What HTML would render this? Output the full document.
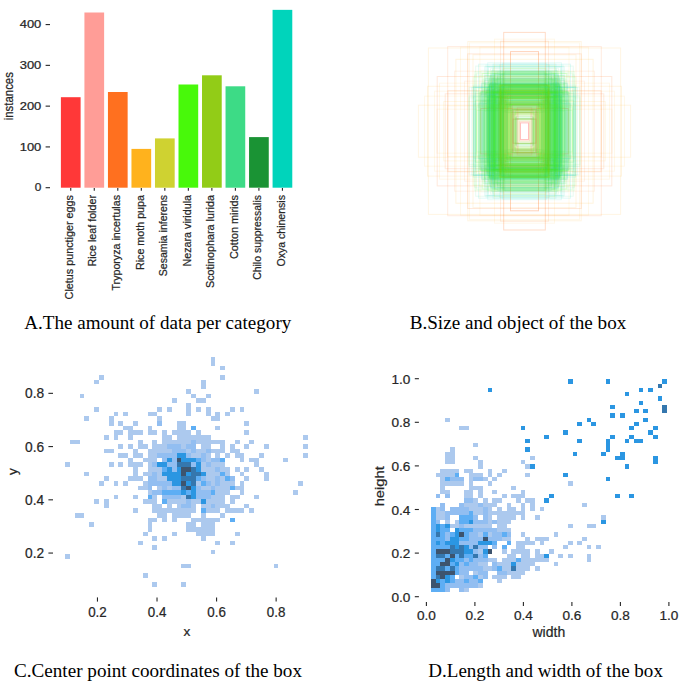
<!DOCTYPE html>
<html><head><meta charset="utf-8"><style>
html,body{margin:0;padding:0;background:#fff;width:685px;height:681px;overflow:hidden}
svg{display:block}
</style></head><body>
<svg width="685" height="681" viewBox="0 0 685 681">
<text x="41.30" y="191.35" font-size="10.3" font-family="'Liberation Sans', sans-serif" fill="#262626" text-anchor="end" textLength="6.60" lengthAdjust="spacingAndGlyphs" stroke="#262626" stroke-width="0.22">0</text>
<line x1="45.60" y1="187.70" x2="50.00" y2="187.70" stroke="#262626" stroke-width="1.1"/>
<text x="41.30" y="150.57" font-size="10.3" font-family="'Liberation Sans', sans-serif" fill="#262626" text-anchor="end" textLength="21.60" lengthAdjust="spacingAndGlyphs" stroke="#262626" stroke-width="0.22">100</text>
<line x1="45.60" y1="146.92" x2="50.00" y2="146.92" stroke="#262626" stroke-width="1.1"/>
<text x="41.30" y="109.79" font-size="10.3" font-family="'Liberation Sans', sans-serif" fill="#262626" text-anchor="end" textLength="21.60" lengthAdjust="spacingAndGlyphs" stroke="#262626" stroke-width="0.22">200</text>
<line x1="45.60" y1="106.14" x2="50.00" y2="106.14" stroke="#262626" stroke-width="1.1"/>
<text x="41.30" y="69.01" font-size="10.3" font-family="'Liberation Sans', sans-serif" fill="#262626" text-anchor="end" textLength="21.60" lengthAdjust="spacingAndGlyphs" stroke="#262626" stroke-width="0.22">300</text>
<line x1="45.60" y1="65.36" x2="50.00" y2="65.36" stroke="#262626" stroke-width="1.1"/>
<text x="41.30" y="28.23" font-size="10.3" font-family="'Liberation Sans', sans-serif" fill="#262626" text-anchor="end" textLength="21.60" lengthAdjust="spacingAndGlyphs" stroke="#262626" stroke-width="0.22">400</text>
<line x1="45.60" y1="24.58" x2="50.00" y2="24.58" stroke="#262626" stroke-width="1.1"/>
<text x="13.30" y="96.20" font-size="12.0" font-family="'Liberation Sans', sans-serif" fill="#262626" text-anchor="middle" textLength="48.20" lengthAdjust="spacingAndGlyphs" transform="rotate(-90 13.30 96.20)" stroke="#262626" stroke-width="0.22">instances</text>
<rect x="60.90" y="97.20" width="19.70" height="90.50" fill="#ff3838"/>
<line x1="70.75" y1="188.00" x2="70.75" y2="190.80" stroke="#262626" stroke-width="1.1"/>
<text x="72.95" y="195.00" font-size="10.7" font-family="'Liberation Sans', sans-serif" fill="#262626" text-anchor="end" textLength="104.40" lengthAdjust="spacingAndGlyphs" transform="rotate(-90 72.95 195.00)" stroke="#262626" stroke-width="0.22">Cletus punctiger eggs</text>
<rect x="84.42" y="12.50" width="19.70" height="175.20" fill="#ff9d97"/>
<line x1="94.27" y1="188.00" x2="94.27" y2="190.80" stroke="#262626" stroke-width="1.1"/>
<text x="96.47" y="195.00" font-size="10.7" font-family="'Liberation Sans', sans-serif" fill="#262626" text-anchor="end" textLength="71.50" lengthAdjust="spacingAndGlyphs" transform="rotate(-90 96.47 195.00)" stroke="#262626" stroke-width="0.22">Rice leaf folder</text>
<rect x="107.94" y="92.00" width="19.70" height="95.70" fill="#ff701f"/>
<line x1="117.79" y1="188.00" x2="117.79" y2="190.80" stroke="#262626" stroke-width="1.1"/>
<text x="119.99" y="195.00" font-size="10.7" font-family="'Liberation Sans', sans-serif" fill="#262626" text-anchor="end" textLength="95.50" lengthAdjust="spacingAndGlyphs" transform="rotate(-90 119.99 195.00)" stroke="#262626" stroke-width="0.22">Tryporyza incertulas</text>
<rect x="131.46" y="148.90" width="19.70" height="38.80" fill="#ffb21d"/>
<line x1="141.31" y1="188.00" x2="141.31" y2="190.80" stroke="#262626" stroke-width="1.1"/>
<text x="143.51" y="195.00" font-size="10.7" font-family="'Liberation Sans', sans-serif" fill="#262626" text-anchor="end" textLength="75.10" lengthAdjust="spacingAndGlyphs" transform="rotate(-90 143.51 195.00)" stroke="#262626" stroke-width="0.22">Rice moth pupa</text>
<rect x="154.98" y="138.40" width="19.70" height="49.30" fill="#cfd231"/>
<line x1="164.83" y1="188.00" x2="164.83" y2="190.80" stroke="#262626" stroke-width="1.1"/>
<text x="167.03" y="195.00" font-size="10.7" font-family="'Liberation Sans', sans-serif" fill="#262626" text-anchor="end" textLength="81.20" lengthAdjust="spacingAndGlyphs" transform="rotate(-90 167.03 195.00)" stroke="#262626" stroke-width="0.22">Sesamia inferens</text>
<rect x="178.50" y="84.50" width="19.70" height="103.20" fill="#48f90a"/>
<line x1="188.35" y1="188.00" x2="188.35" y2="190.80" stroke="#262626" stroke-width="1.1"/>
<text x="190.55" y="195.00" font-size="10.7" font-family="'Liberation Sans', sans-serif" fill="#262626" text-anchor="end" textLength="71.50" lengthAdjust="spacingAndGlyphs" transform="rotate(-90 190.55 195.00)" stroke="#262626" stroke-width="0.22">Nezara viridula</text>
<rect x="202.02" y="75.30" width="19.70" height="112.40" fill="#92cc17"/>
<line x1="211.87" y1="188.00" x2="211.87" y2="190.80" stroke="#262626" stroke-width="1.1"/>
<text x="214.07" y="195.00" font-size="10.7" font-family="'Liberation Sans', sans-serif" fill="#262626" text-anchor="end" textLength="93.00" lengthAdjust="spacingAndGlyphs" transform="rotate(-90 214.07 195.00)" stroke="#262626" stroke-width="0.22">Scotinophara lurida</text>
<rect x="225.54" y="86.30" width="19.70" height="101.40" fill="#3ddb86"/>
<line x1="235.39" y1="188.00" x2="235.39" y2="190.80" stroke="#262626" stroke-width="1.1"/>
<text x="237.59" y="195.00" font-size="10.7" font-family="'Liberation Sans', sans-serif" fill="#262626" text-anchor="end" textLength="64.00" lengthAdjust="spacingAndGlyphs" transform="rotate(-90 237.59 195.00)" stroke="#262626" stroke-width="0.22">Cotton mirids</text>
<rect x="249.06" y="137.10" width="19.70" height="50.60" fill="#1a9334"/>
<line x1="258.91" y1="188.00" x2="258.91" y2="190.80" stroke="#262626" stroke-width="1.1"/>
<text x="261.11" y="195.00" font-size="10.7" font-family="'Liberation Sans', sans-serif" fill="#262626" text-anchor="end" textLength="84.80" lengthAdjust="spacingAndGlyphs" transform="rotate(-90 261.11 195.00)" stroke="#262626" stroke-width="0.22">Chilo suppressalis</text>
<rect x="272.58" y="9.85" width="19.70" height="177.85" fill="#00d4bb"/>
<line x1="282.43" y1="188.00" x2="282.43" y2="190.80" stroke="#262626" stroke-width="1.1"/>
<text x="284.63" y="195.00" font-size="10.7" font-family="'Liberation Sans', sans-serif" fill="#262626" text-anchor="end" textLength="71.50" lengthAdjust="spacingAndGlyphs" transform="rotate(-90 284.63 195.00)" stroke="#262626" stroke-width="0.22">Oxya chinensis</text>
<rect x="503.7" y="32.4" width="41.6" height="197.6" fill="none" stroke="#ff701f" stroke-opacity="0.248" stroke-width="1.0"/>
<rect x="428.4" y="48.0" width="192.2" height="166.4" fill="none" stroke="#ffb21d" stroke-opacity="0.124" stroke-width="1.0"/>
<rect x="418.4" y="105.2" width="212.2" height="52.0" fill="none" stroke="#ffb21d" stroke-opacity="0.124" stroke-width="1.0"/>
<rect x="467.8" y="41.6" width="113.4" height="179.2" fill="none" stroke="#ffb21d" stroke-opacity="0.124" stroke-width="1.0"/>
<rect x="437.2" y="76.5" width="174.6" height="109.4" fill="none" stroke="#ff701f" stroke-opacity="0.155" stroke-width="1.0"/>
<rect x="427.5" y="86.3" width="194.0" height="89.8" fill="none" stroke="#ffb21d" stroke-opacity="0.124" stroke-width="1.0"/>
<rect x="447.9" y="90.7" width="153.2" height="81.0" fill="none" stroke="#ff701f" stroke-opacity="0.155" stroke-width="1.0"/>
<rect x="437.0" y="109.2" width="175.0" height="44.0" fill="none" stroke="#ffb21d" stroke-opacity="0.093" stroke-width="1.0"/>
<rect x="467.7" y="53.9" width="113.6" height="154.6" fill="none" stroke="#ff701f" stroke-opacity="0.155" stroke-width="1.0"/>
<rect x="473.0" y="54.8" width="103.0" height="152.8" fill="none" stroke="#ffb21d" stroke-opacity="0.124" stroke-width="1.0"/>
<rect x="434.5" y="91.2" width="180.0" height="80.0" fill="none" stroke="#ffb21d" stroke-opacity="0.093" stroke-width="1.0"/>
<rect x="447.5" y="105.9" width="154.0" height="50.6" fill="none" stroke="#ffb21d" stroke-opacity="0.093" stroke-width="1.0"/>
<rect x="469.5" y="42.8" width="110.0" height="176.8" fill="none" stroke="#ffb21d" stroke-opacity="0.093" stroke-width="1.0"/>
<rect x="480.8" y="108.5" width="87.4" height="45.4" fill="none" stroke="#ff701f" stroke-opacity="0.279" stroke-width="1.0"/>
<rect x="510.5" y="51.6" width="28.0" height="159.2" fill="none" stroke="#ff701f" stroke-opacity="0.310" stroke-width="1.0"/>
<rect x="500.5" y="41.2" width="48.0" height="180.0" fill="none" stroke="#ff701f" stroke-opacity="0.124" stroke-width="1.0"/>
<rect x="494.5" y="39.2" width="60.0" height="184.0" fill="none" stroke="#ffb21d" stroke-opacity="0.093" stroke-width="1.0"/>
<rect x="460.5" y="47.2" width="128.0" height="168.0" fill="none" stroke="#ffb21d" stroke-opacity="0.093" stroke-width="1.0"/>
<rect x="424.5" y="96.2" width="200.0" height="70.0" fill="none" stroke="#ffb21d" stroke-opacity="0.093" stroke-width="1.0"/>
<rect x="454.5" y="71.2" width="140.0" height="120.0" fill="none" stroke="#ff701f" stroke-opacity="0.093" stroke-width="1.0"/>
<rect x="464.5" y="81.2" width="120.0" height="100.0" fill="none" stroke="#ff701f" stroke-opacity="0.093" stroke-width="1.0"/>
<rect x="439.5" y="83.2" width="170.0" height="96.0" fill="none" stroke="#ffb21d" stroke-opacity="0.093" stroke-width="1.0"/>
<rect x="455.9" y="59.3" width="137.2" height="143.9" fill="none" stroke="#ffb21d" stroke-opacity="0.146" stroke-width="1.0"/>
<rect x="447.7" y="46.6" width="153.6" height="169.1" fill="none" stroke="#ff701f" stroke-opacity="0.139" stroke-width="1.0"/>
<rect x="445.2" y="93.8" width="158.6" height="74.9" fill="none" stroke="#ff701f" stroke-opacity="0.143" stroke-width="1.0"/>
<rect x="491.6" y="78.4" width="65.8" height="105.7" fill="none" stroke="#ff701f" stroke-opacity="0.107" stroke-width="1.0"/>
<rect x="492.4" y="93.7" width="64.3" height="74.9" fill="none" stroke="#ffb21d" stroke-opacity="0.095" stroke-width="1.0"/>
<rect x="479.9" y="47.1" width="89.1" height="168.3" fill="none" stroke="#ffb21d" stroke-opacity="0.091" stroke-width="1.0"/>
<rect x="443.7" y="101.5" width="161.6" height="59.4" fill="none" stroke="#ffb21d" stroke-opacity="0.111" stroke-width="1.0"/>
<rect x="475.7" y="66.1" width="97.5" height="130.1" fill="none" stroke="#3ddb86" stroke-opacity="0.112" stroke-width="1.0"/>
<rect x="489.0" y="92.1" width="71.0" height="78.2" fill="none" stroke="#3ddb86" stroke-opacity="0.071" stroke-width="1.0"/>
<rect x="479.4" y="75.9" width="90.1" height="110.5" fill="none" stroke="#48f90a" stroke-opacity="0.078" stroke-width="1.0"/>
<rect x="490.0" y="76.0" width="69.1" height="110.5" fill="none" stroke="#3ddb86" stroke-opacity="0.076" stroke-width="1.0"/>
<rect x="499.7" y="64.8" width="49.6" height="132.7" fill="none" stroke="#00d4bb" stroke-opacity="0.096" stroke-width="1.0"/>
<rect x="481.3" y="83.4" width="86.3" height="95.6" fill="none" stroke="#00d4bb" stroke-opacity="0.109" stroke-width="1.0"/>
<rect x="489.5" y="83.6" width="69.9" height="95.3" fill="none" stroke="#48f90a" stroke-opacity="0.088" stroke-width="1.0"/>
<rect x="488.4" y="67.2" width="72.2" height="128.0" fill="none" stroke="#00d4bb" stroke-opacity="0.117" stroke-width="1.0"/>
<rect x="493.6" y="73.7" width="61.9" height="115.0" fill="none" stroke="#48f90a" stroke-opacity="0.082" stroke-width="1.0"/>
<rect x="484.2" y="80.3" width="80.6" height="101.8" fill="none" stroke="#00d4bb" stroke-opacity="0.102" stroke-width="1.0"/>
<rect x="478.6" y="104.0" width="91.8" height="54.5" fill="none" stroke="#00d4bb" stroke-opacity="0.105" stroke-width="1.0"/>
<rect x="492.9" y="73.0" width="63.1" height="116.4" fill="none" stroke="#00d4bb" stroke-opacity="0.107" stroke-width="1.0"/>
<rect x="484.8" y="66.7" width="79.4" height="129.0" fill="none" stroke="#00d4bb" stroke-opacity="0.115" stroke-width="1.0"/>
<rect x="502.5" y="63.3" width="44.1" height="135.9" fill="none" stroke="#00d4bb" stroke-opacity="0.079" stroke-width="1.0"/>
<rect x="490.2" y="73.5" width="68.6" height="115.3" fill="none" stroke="#00d4bb" stroke-opacity="0.098" stroke-width="1.0"/>
<rect x="476.7" y="88.7" width="95.6" height="85.0" fill="none" stroke="#48f90a" stroke-opacity="0.070" stroke-width="1.0"/>
<rect x="487.7" y="87.7" width="73.6" height="87.0" fill="none" stroke="#3ddb86" stroke-opacity="0.104" stroke-width="1.0"/>
<rect x="491.4" y="74.1" width="66.2" height="114.2" fill="none" stroke="#48f90a" stroke-opacity="0.069" stroke-width="1.0"/>
<rect x="474.7" y="71.6" width="99.7" height="119.1" fill="none" stroke="#48f90a" stroke-opacity="0.080" stroke-width="1.0"/>
<rect x="484.9" y="84.4" width="79.2" height="93.7" fill="none" stroke="#48f90a" stroke-opacity="0.066" stroke-width="1.0"/>
<rect x="488.8" y="79.8" width="71.5" height="102.9" fill="none" stroke="#48f90a" stroke-opacity="0.078" stroke-width="1.0"/>
<rect x="492.5" y="82.8" width="64.0" height="96.7" fill="none" stroke="#00d4bb" stroke-opacity="0.089" stroke-width="1.0"/>
<rect x="493.3" y="68.0" width="62.5" height="126.4" fill="none" stroke="#3ddb86" stroke-opacity="0.067" stroke-width="1.0"/>
<rect x="469.1" y="87.4" width="110.8" height="87.5" fill="none" stroke="#3ddb86" stroke-opacity="0.098" stroke-width="1.0"/>
<rect x="489.0" y="84.9" width="71.1" height="92.5" fill="none" stroke="#00d4bb" stroke-opacity="0.090" stroke-width="1.0"/>
<rect x="489.8" y="88.5" width="69.3" height="85.4" fill="none" stroke="#00d4bb" stroke-opacity="0.064" stroke-width="1.0"/>
<rect x="473.4" y="86.9" width="102.2" height="88.6" fill="none" stroke="#00d4bb" stroke-opacity="0.106" stroke-width="1.0"/>
<rect x="497.7" y="71.9" width="53.6" height="118.6" fill="none" stroke="#00d4bb" stroke-opacity="0.110" stroke-width="1.0"/>
<rect x="490.3" y="74.7" width="68.5" height="113.0" fill="none" stroke="#00d4bb" stroke-opacity="0.088" stroke-width="1.0"/>
<rect x="474.5" y="87.4" width="100.0" height="87.6" fill="none" stroke="#00d4bb" stroke-opacity="0.088" stroke-width="1.0"/>
<rect x="473.5" y="86.7" width="101.9" height="89.0" fill="none" stroke="#00d4bb" stroke-opacity="0.104" stroke-width="1.0"/>
<rect x="473.2" y="85.1" width="102.5" height="92.2" fill="none" stroke="#3ddb86" stroke-opacity="0.112" stroke-width="1.0"/>
<rect x="474.5" y="75.1" width="100.0" height="112.3" fill="none" stroke="#3ddb86" stroke-opacity="0.072" stroke-width="1.0"/>
<rect x="500.5" y="69.9" width="48.1" height="122.5" fill="none" stroke="#00d4bb" stroke-opacity="0.101" stroke-width="1.0"/>
<rect x="469.1" y="96.0" width="110.8" height="70.4" fill="none" stroke="#3ddb86" stroke-opacity="0.097" stroke-width="1.0"/>
<rect x="473.2" y="77.2" width="102.7" height="108.0" fill="none" stroke="#48f90a" stroke-opacity="0.078" stroke-width="1.0"/>
<rect x="489.3" y="97.2" width="70.4" height="68.0" fill="none" stroke="#00d4bb" stroke-opacity="0.103" stroke-width="1.0"/>
<rect x="482.1" y="73.5" width="84.8" height="115.5" fill="none" stroke="#48f90a" stroke-opacity="0.097" stroke-width="1.0"/>
<rect x="491.8" y="86.0" width="65.4" height="90.5" fill="none" stroke="#48f90a" stroke-opacity="0.088" stroke-width="1.0"/>
<rect x="496.1" y="74.9" width="56.8" height="112.6" fill="none" stroke="#3ddb86" stroke-opacity="0.074" stroke-width="1.0"/>
<rect x="483.8" y="78.8" width="81.4" height="104.8" fill="none" stroke="#48f90a" stroke-opacity="0.117" stroke-width="1.0"/>
<rect x="475.3" y="93.3" width="98.5" height="75.7" fill="none" stroke="#00d4bb" stroke-opacity="0.093" stroke-width="1.0"/>
<rect x="491.9" y="70.7" width="65.2" height="121.1" fill="none" stroke="#00d4bb" stroke-opacity="0.117" stroke-width="1.0"/>
<rect x="492.6" y="69.1" width="63.8" height="124.2" fill="none" stroke="#3ddb86" stroke-opacity="0.085" stroke-width="1.0"/>
<rect x="489.5" y="76.6" width="70.0" height="109.2" fill="none" stroke="#48f90a" stroke-opacity="0.094" stroke-width="1.0"/>
<rect x="482.8" y="89.6" width="83.4" height="83.3" fill="none" stroke="#00d4bb" stroke-opacity="0.083" stroke-width="1.0"/>
<rect x="486.9" y="86.9" width="75.2" height="88.7" fill="none" stroke="#48f90a" stroke-opacity="0.086" stroke-width="1.0"/>
<rect x="476.3" y="73.1" width="96.5" height="116.1" fill="none" stroke="#48f90a" stroke-opacity="0.118" stroke-width="1.0"/>
<rect x="503.9" y="72.3" width="41.3" height="117.8" fill="none" stroke="#3ddb86" stroke-opacity="0.096" stroke-width="1.0"/>
<rect x="489.8" y="85.6" width="69.4" height="91.2" fill="none" stroke="#00d4bb" stroke-opacity="0.117" stroke-width="1.0"/>
<rect x="485.0" y="75.7" width="79.0" height="111.0" fill="none" stroke="#48f90a" stroke-opacity="0.075" stroke-width="1.0"/>
<rect x="482.7" y="73.4" width="83.6" height="115.5" fill="none" stroke="#48f90a" stroke-opacity="0.061" stroke-width="1.0"/>
<rect x="486.9" y="85.8" width="75.1" height="90.8" fill="none" stroke="#48f90a" stroke-opacity="0.107" stroke-width="1.0"/>
<rect x="490.6" y="68.4" width="67.8" height="125.6" fill="none" stroke="#3ddb86" stroke-opacity="0.103" stroke-width="1.0"/>
<rect x="494.3" y="65.8" width="60.4" height="130.8" fill="none" stroke="#48f90a" stroke-opacity="0.091" stroke-width="1.0"/>
<rect x="482.4" y="79.1" width="84.3" height="104.2" fill="none" stroke="#3ddb86" stroke-opacity="0.078" stroke-width="1.0"/>
<rect x="487.3" y="86.7" width="74.5" height="88.9" fill="none" stroke="#00d4bb" stroke-opacity="0.104" stroke-width="1.0"/>
<rect x="480.9" y="70.4" width="87.2" height="121.6" fill="none" stroke="#3ddb86" stroke-opacity="0.062" stroke-width="1.0"/>
<rect x="493.1" y="64.1" width="62.8" height="134.1" fill="none" stroke="#00d4bb" stroke-opacity="0.113" stroke-width="1.0"/>
<rect x="484.6" y="80.4" width="79.8" height="101.5" fill="none" stroke="#48f90a" stroke-opacity="0.096" stroke-width="1.0"/>
<rect x="475.6" y="100.2" width="97.8" height="62.1" fill="none" stroke="#48f90a" stroke-opacity="0.089" stroke-width="1.0"/>
<rect x="473.4" y="96.6" width="102.3" height="69.2" fill="none" stroke="#00d4bb" stroke-opacity="0.088" stroke-width="1.0"/>
<rect x="475.4" y="87.6" width="98.2" height="87.1" fill="none" stroke="#00d4bb" stroke-opacity="0.102" stroke-width="1.0"/>
<rect x="490.8" y="80.2" width="67.5" height="102.1" fill="none" stroke="#48f90a" stroke-opacity="0.115" stroke-width="1.0"/>
<rect x="487.2" y="89.9" width="74.7" height="82.7" fill="none" stroke="#00d4bb" stroke-opacity="0.092" stroke-width="1.0"/>
<rect x="494.1" y="80.3" width="60.8" height="101.8" fill="none" stroke="#00d4bb" stroke-opacity="0.064" stroke-width="1.0"/>
<rect x="478.6" y="64.2" width="91.9" height="134.0" fill="none" stroke="#00d4bb" stroke-opacity="0.120" stroke-width="1.0"/>
<rect x="481.9" y="82.8" width="85.3" height="96.8" fill="none" stroke="#00d4bb" stroke-opacity="0.073" stroke-width="1.0"/>
<rect x="474.1" y="104.0" width="100.7" height="54.3" fill="none" stroke="#3ddb86" stroke-opacity="0.120" stroke-width="1.0"/>
<rect x="475.6" y="91.2" width="97.9" height="80.0" fill="none" stroke="#3ddb86" stroke-opacity="0.097" stroke-width="1.0"/>
<rect x="489.3" y="78.7" width="70.3" height="104.9" fill="none" stroke="#3ddb86" stroke-opacity="0.063" stroke-width="1.0"/>
<rect x="485.9" y="65.0" width="77.2" height="132.4" fill="none" stroke="#00d4bb" stroke-opacity="0.077" stroke-width="1.0"/>
<rect x="484.6" y="84.2" width="79.7" height="94.0" fill="none" stroke="#48f90a" stroke-opacity="0.113" stroke-width="1.0"/>
<rect x="487.7" y="62.7" width="73.7" height="137.0" fill="none" stroke="#00d4bb" stroke-opacity="0.101" stroke-width="1.0"/>
<rect x="489.5" y="84.5" width="69.9" height="93.4" fill="none" stroke="#00d4bb" stroke-opacity="0.115" stroke-width="1.0"/>
<rect x="487.1" y="66.4" width="74.8" height="129.6" fill="none" stroke="#00d4bb" stroke-opacity="0.115" stroke-width="1.0"/>
<rect x="487.3" y="92.1" width="74.4" height="78.2" fill="none" stroke="#00d4bb" stroke-opacity="0.064" stroke-width="1.0"/>
<rect x="491.4" y="82.2" width="66.3" height="98.0" fill="none" stroke="#3ddb86" stroke-opacity="0.103" stroke-width="1.0"/>
<rect x="482.2" y="84.2" width="84.6" height="94.0" fill="none" stroke="#00d4bb" stroke-opacity="0.065" stroke-width="1.0"/>
<rect x="489.6" y="83.6" width="69.7" height="95.2" fill="none" stroke="#00d4bb" stroke-opacity="0.093" stroke-width="1.0"/>
<rect x="500.0" y="74.4" width="48.9" height="113.6" fill="none" stroke="#48f90a" stroke-opacity="0.101" stroke-width="1.0"/>
<rect x="488.0" y="72.0" width="73.1" height="118.4" fill="none" stroke="#48f90a" stroke-opacity="0.109" stroke-width="1.0"/>
<rect x="491.2" y="74.9" width="66.7" height="112.6" fill="none" stroke="#00d4bb" stroke-opacity="0.116" stroke-width="1.0"/>
<rect x="469.0" y="97.8" width="111.0" height="66.7" fill="none" stroke="#48f90a" stroke-opacity="0.068" stroke-width="1.0"/>
<rect x="471.6" y="87.4" width="105.9" height="87.6" fill="none" stroke="#00d4bb" stroke-opacity="0.091" stroke-width="1.0"/>
<rect x="483.8" y="92.9" width="81.3" height="76.6" fill="none" stroke="#3ddb86" stroke-opacity="0.084" stroke-width="1.0"/>
<rect x="484.4" y="75.5" width="80.2" height="111.5" fill="none" stroke="#3ddb86" stroke-opacity="0.072" stroke-width="1.0"/>
<rect x="497.4" y="93.6" width="54.2" height="75.2" fill="none" stroke="#00d4bb" stroke-opacity="0.060" stroke-width="1.0"/>
<rect x="497.5" y="89.3" width="54.0" height="83.7" fill="none" stroke="#48f90a" stroke-opacity="0.079" stroke-width="1.0"/>
<rect x="488.8" y="81.4" width="71.5" height="99.6" fill="none" stroke="#3ddb86" stroke-opacity="0.064" stroke-width="1.0"/>
<rect x="491.7" y="83.9" width="65.7" height="94.6" fill="none" stroke="#3ddb86" stroke-opacity="0.075" stroke-width="1.0"/>
<rect x="502.1" y="107.0" width="44.9" height="48.4" fill="none" stroke="#3ddb86" stroke-opacity="0.105" stroke-width="1.0"/>
<rect x="495.8" y="81.4" width="57.3" height="99.5" fill="none" stroke="#3ddb86" stroke-opacity="0.115" stroke-width="1.0"/>
<rect x="500.5" y="97.3" width="48.1" height="67.8" fill="none" stroke="#48f90a" stroke-opacity="0.101" stroke-width="1.0"/>
<rect x="495.8" y="108.1" width="57.4" height="46.1" fill="none" stroke="#48f90a" stroke-opacity="0.107" stroke-width="1.0"/>
<rect x="501.2" y="98.4" width="46.5" height="65.6" fill="none" stroke="#48f90a" stroke-opacity="0.100" stroke-width="1.0"/>
<rect x="494.8" y="90.5" width="59.4" height="81.4" fill="none" stroke="#48f90a" stroke-opacity="0.094" stroke-width="1.0"/>
<rect x="496.1" y="90.8" width="56.8" height="80.7" fill="none" stroke="#3ddb86" stroke-opacity="0.084" stroke-width="1.0"/>
<rect x="487.7" y="86.8" width="73.6" height="88.8" fill="none" stroke="#48f90a" stroke-opacity="0.082" stroke-width="1.0"/>
<rect x="507.4" y="105.0" width="34.2" height="52.3" fill="none" stroke="#48f90a" stroke-opacity="0.070" stroke-width="1.0"/>
<rect x="502.8" y="109.7" width="43.4" height="43.1" fill="none" stroke="#3ddb86" stroke-opacity="0.086" stroke-width="1.0"/>
<rect x="487.6" y="95.8" width="73.8" height="70.8" fill="none" stroke="#48f90a" stroke-opacity="0.088" stroke-width="1.0"/>
<rect x="499.2" y="99.8" width="50.7" height="62.8" fill="none" stroke="#48f90a" stroke-opacity="0.093" stroke-width="1.0"/>
<rect x="486.5" y="85.1" width="76.0" height="92.1" fill="none" stroke="#3ddb86" stroke-opacity="0.094" stroke-width="1.0"/>
<rect x="489.4" y="86.5" width="70.3" height="89.5" fill="none" stroke="#48f90a" stroke-opacity="0.066" stroke-width="1.0"/>
<rect x="498.9" y="102.2" width="51.2" height="57.9" fill="none" stroke="#3ddb86" stroke-opacity="0.099" stroke-width="1.0"/>
<rect x="498.5" y="97.1" width="51.9" height="68.2" fill="none" stroke="#48f90a" stroke-opacity="0.087" stroke-width="1.0"/>
<rect x="496.4" y="96.5" width="56.3" height="69.4" fill="none" stroke="#48f90a" stroke-opacity="0.117" stroke-width="1.0"/>
<rect x="503.8" y="107.1" width="41.5" height="48.2" fill="none" stroke="#3ddb86" stroke-opacity="0.092" stroke-width="1.0"/>
<rect x="506.7" y="109.2" width="35.5" height="43.9" fill="none" stroke="#3ddb86" stroke-opacity="0.119" stroke-width="1.0"/>
<rect x="504.5" y="102.6" width="39.9" height="57.2" fill="none" stroke="#48f90a" stroke-opacity="0.111" stroke-width="1.0"/>
<rect x="503.3" y="96.3" width="42.3" height="69.9" fill="none" stroke="#48f90a" stroke-opacity="0.085" stroke-width="1.0"/>
<rect x="494.0" y="90.8" width="60.9" height="80.8" fill="none" stroke="#3ddb86" stroke-opacity="0.098" stroke-width="1.0"/>
<rect x="494.9" y="88.3" width="59.3" height="85.8" fill="none" stroke="#48f90a" stroke-opacity="0.113" stroke-width="1.0"/>
<rect x="484.9" y="82.3" width="79.3" height="97.7" fill="none" stroke="#3ddb86" stroke-opacity="0.067" stroke-width="1.0"/>
<rect x="501.4" y="92.4" width="46.1" height="77.5" fill="none" stroke="#48f90a" stroke-opacity="0.079" stroke-width="1.0"/>
<rect x="505.4" y="100.9" width="38.3" height="60.5" fill="none" stroke="#48f90a" stroke-opacity="0.088" stroke-width="1.0"/>
<rect x="495.4" y="88.6" width="58.2" height="85.2" fill="none" stroke="#3ddb86" stroke-opacity="0.077" stroke-width="1.0"/>
<rect x="498.6" y="112.5" width="51.8" height="37.3" fill="none" stroke="#3ddb86" stroke-opacity="0.063" stroke-width="1.0"/>
<rect x="503.6" y="105.4" width="41.7" height="51.6" fill="none" stroke="#48f90a" stroke-opacity="0.064" stroke-width="1.0"/>
<rect x="494.0" y="85.9" width="61.0" height="90.6" fill="none" stroke="#48f90a" stroke-opacity="0.105" stroke-width="1.0"/>
<rect x="497.7" y="89.4" width="53.6" height="83.6" fill="none" stroke="#3ddb86" stroke-opacity="0.094" stroke-width="1.0"/>
<rect x="499.3" y="103.8" width="50.3" height="54.8" fill="none" stroke="#48f90a" stroke-opacity="0.104" stroke-width="1.0"/>
<rect x="495.3" y="94.5" width="58.4" height="73.4" fill="none" stroke="#48f90a" stroke-opacity="0.094" stroke-width="1.0"/>
<rect x="501.3" y="90.1" width="46.4" height="82.2" fill="none" stroke="#3ddb86" stroke-opacity="0.070" stroke-width="1.0"/>
<rect x="502.4" y="104.6" width="44.3" height="53.2" fill="none" stroke="#48f90a" stroke-opacity="0.093" stroke-width="1.0"/>
<rect x="494.6" y="96.7" width="59.8" height="68.9" fill="none" stroke="#48f90a" stroke-opacity="0.062" stroke-width="1.0"/>
<rect x="508.0" y="106.0" width="32.9" height="50.5" fill="none" stroke="#3ddb86" stroke-opacity="0.117" stroke-width="1.0"/>
<rect x="496.8" y="91.1" width="55.3" height="80.2" fill="none" stroke="#3ddb86" stroke-opacity="0.092" stroke-width="1.0"/>
<rect x="505.5" y="104.8" width="38.0" height="52.8" fill="none" stroke="#3ddb86" stroke-opacity="0.095" stroke-width="1.0"/>
<rect x="492.7" y="84.5" width="63.5" height="93.4" fill="none" stroke="#48f90a" stroke-opacity="0.076" stroke-width="1.0"/>
<rect x="496.9" y="97.6" width="55.1" height="67.1" fill="none" stroke="#48f90a" stroke-opacity="0.108" stroke-width="1.0"/>
<rect x="505.7" y="109.2" width="37.6" height="44.0" fill="none" stroke="#3ddb86" stroke-opacity="0.087" stroke-width="1.0"/>
<rect x="503.0" y="106.3" width="42.9" height="49.7" fill="none" stroke="#48f90a" stroke-opacity="0.106" stroke-width="1.0"/>
<rect x="489.5" y="87.8" width="70.0" height="86.8" fill="none" stroke="#3ddb86" stroke-opacity="0.088" stroke-width="1.0"/>
<rect x="498.6" y="94.4" width="51.8" height="73.5" fill="none" stroke="#48f90a" stroke-opacity="0.101" stroke-width="1.0"/>
<rect x="503.5" y="103.8" width="42.0" height="54.7" fill="none" stroke="#48f90a" stroke-opacity="0.062" stroke-width="1.0"/>
<rect x="497.4" y="108.3" width="54.2" height="45.9" fill="none" stroke="#48f90a" stroke-opacity="0.088" stroke-width="1.0"/>
<rect x="503.6" y="102.7" width="41.8" height="57.1" fill="none" stroke="#3ddb86" stroke-opacity="0.078" stroke-width="1.0"/>
<rect x="498.3" y="96.1" width="52.4" height="70.1" fill="none" stroke="#3ddb86" stroke-opacity="0.081" stroke-width="1.0"/>
<rect x="502.6" y="91.4" width="43.7" height="79.7" fill="none" stroke="#48f90a" stroke-opacity="0.097" stroke-width="1.0"/>
<rect x="500.0" y="100.6" width="49.1" height="61.3" fill="none" stroke="#3ddb86" stroke-opacity="0.069" stroke-width="1.0"/>
<rect x="502.8" y="105.0" width="43.3" height="52.4" fill="none" stroke="#48f90a" stroke-opacity="0.066" stroke-width="1.0"/>
<rect x="495.0" y="91.1" width="59.0" height="80.3" fill="none" stroke="#3ddb86" stroke-opacity="0.108" stroke-width="1.0"/>
<rect x="494.3" y="98.6" width="60.4" height="65.1" fill="none" stroke="#3ddb86" stroke-opacity="0.097" stroke-width="1.0"/>
<rect x="493.3" y="89.7" width="62.3" height="82.9" fill="none" stroke="#48f90a" stroke-opacity="0.101" stroke-width="1.0"/>
<rect x="506.1" y="112.5" width="36.7" height="37.5" fill="none" stroke="#48f90a" stroke-opacity="0.061" stroke-width="1.0"/>
<rect x="495.7" y="99.4" width="57.5" height="63.7" fill="none" stroke="#3ddb86" stroke-opacity="0.089" stroke-width="1.0"/>
<rect x="495.3" y="97.8" width="58.4" height="66.8" fill="none" stroke="#48f90a" stroke-opacity="0.087" stroke-width="1.0"/>
<rect x="493.6" y="103.4" width="61.8" height="55.7" fill="none" stroke="#3ddb86" stroke-opacity="0.100" stroke-width="1.0"/>
<rect x="498.0" y="103.4" width="53.0" height="55.6" fill="none" stroke="#48f90a" stroke-opacity="0.082" stroke-width="1.0"/>
<rect x="497.1" y="98.7" width="54.8" height="64.9" fill="none" stroke="#3ddb86" stroke-opacity="0.077" stroke-width="1.0"/>
<rect x="509.2" y="110.1" width="30.5" height="42.2" fill="none" stroke="#48f90a" stroke-opacity="0.078" stroke-width="1.0"/>
<rect x="489.8" y="94.2" width="69.5" height="74.0" fill="none" stroke="#3ddb86" stroke-opacity="0.116" stroke-width="1.0"/>
<rect x="502.9" y="100.6" width="43.2" height="61.1" fill="none" stroke="#3ddb86" stroke-opacity="0.114" stroke-width="1.0"/>
<rect x="495.6" y="93.0" width="57.9" height="76.4" fill="none" stroke="#3ddb86" stroke-opacity="0.097" stroke-width="1.0"/>
<rect x="503.5" y="105.2" width="42.1" height="52.0" fill="none" stroke="#3ddb86" stroke-opacity="0.081" stroke-width="1.0"/>
<rect x="493.7" y="105.1" width="61.7" height="52.1" fill="none" stroke="#48f90a" stroke-opacity="0.083" stroke-width="1.0"/>
<rect x="494.4" y="84.7" width="60.2" height="92.9" fill="none" stroke="#3ddb86" stroke-opacity="0.114" stroke-width="1.0"/>
<rect x="490.4" y="91.4" width="68.1" height="79.6" fill="none" stroke="#48f90a" stroke-opacity="0.111" stroke-width="1.0"/>
<rect x="491.1" y="91.6" width="66.8" height="79.1" fill="none" stroke="#3ddb86" stroke-opacity="0.075" stroke-width="1.0"/>
<rect x="506.2" y="110.4" width="36.5" height="41.6" fill="none" stroke="#3ddb86" stroke-opacity="0.065" stroke-width="1.0"/>
<rect x="488.9" y="79.4" width="71.2" height="103.5" fill="none" stroke="#3ddb86" stroke-opacity="0.073" stroke-width="1.0"/>
<rect x="507.5" y="106.3" width="33.9" height="49.8" fill="none" stroke="#3ddb86" stroke-opacity="0.098" stroke-width="1.0"/>
<rect x="496.4" y="100.5" width="56.2" height="61.3" fill="none" stroke="#3ddb86" stroke-opacity="0.086" stroke-width="1.0"/>
<rect x="498.1" y="98.6" width="52.8" height="65.2" fill="none" stroke="#3ddb86" stroke-opacity="0.078" stroke-width="1.0"/>
<rect x="502.0" y="111.6" width="45.0" height="39.2" fill="none" stroke="#3ddb86" stroke-opacity="0.085" stroke-width="1.0"/>
<rect x="504.9" y="107.8" width="39.3" height="46.8" fill="none" stroke="#3ddb86" stroke-opacity="0.071" stroke-width="1.0"/>
<rect x="503.9" y="97.0" width="41.3" height="68.3" fill="none" stroke="#3ddb86" stroke-opacity="0.066" stroke-width="1.0"/>
<rect x="493.6" y="92.2" width="61.7" height="77.9" fill="none" stroke="#48f90a" stroke-opacity="0.068" stroke-width="1.0"/>
<rect x="498.2" y="95.0" width="52.5" height="72.5" fill="none" stroke="#48f90a" stroke-opacity="0.079" stroke-width="1.0"/>
<rect x="492.2" y="97.6" width="64.7" height="67.3" fill="none" stroke="#3ddb86" stroke-opacity="0.114" stroke-width="1.0"/>
<rect x="496.8" y="106.0" width="55.4" height="50.4" fill="none" stroke="#48f90a" stroke-opacity="0.110" stroke-width="1.0"/>
<rect x="511.7" y="109.6" width="25.6" height="43.1" fill="none" stroke="#48f90a" stroke-opacity="0.094" stroke-width="1.0"/>
<rect x="499.3" y="103.0" width="50.3" height="56.3" fill="none" stroke="#3ddb86" stroke-opacity="0.103" stroke-width="1.0"/>
<rect x="490.0" y="77.1" width="69.1" height="108.3" fill="none" stroke="#3ddb86" stroke-opacity="0.098" stroke-width="1.0"/>
<rect x="488.2" y="81.8" width="72.6" height="98.8" fill="none" stroke="#48f90a" stroke-opacity="0.072" stroke-width="1.0"/>
<rect x="501.2" y="99.3" width="46.5" height="63.9" fill="none" stroke="#3ddb86" stroke-opacity="0.088" stroke-width="1.0"/>
<rect x="495.7" y="93.9" width="57.6" height="74.7" fill="none" stroke="#48f90a" stroke-opacity="0.116" stroke-width="1.0"/>
<rect x="499.0" y="100.5" width="51.0" height="61.3" fill="none" stroke="#48f90a" stroke-opacity="0.067" stroke-width="1.0"/>
<rect x="497.1" y="102.0" width="54.9" height="58.5" fill="none" stroke="#48f90a" stroke-opacity="0.083" stroke-width="1.0"/>
<rect x="500.9" y="94.1" width="47.2" height="74.3" fill="none" stroke="#48f90a" stroke-opacity="0.089" stroke-width="1.0"/>
<rect x="489.4" y="85.9" width="70.1" height="90.6" fill="none" stroke="#48f90a" stroke-opacity="0.120" stroke-width="1.0"/>
<rect x="494.4" y="93.1" width="60.2" height="76.2" fill="none" stroke="#3ddb86" stroke-opacity="0.115" stroke-width="1.0"/>
<rect x="500.3" y="101.5" width="48.5" height="59.5" fill="none" stroke="#48f90a" stroke-opacity="0.095" stroke-width="1.0"/>
<rect x="501.7" y="94.8" width="45.5" height="72.9" fill="none" stroke="#3ddb86" stroke-opacity="0.117" stroke-width="1.0"/>
<rect x="507.5" y="113.0" width="34.0" height="36.4" fill="none" stroke="#3ddb86" stroke-opacity="0.076" stroke-width="1.0"/>
<rect x="495.0" y="91.1" width="59.0" height="80.3" fill="none" stroke="#3ddb86" stroke-opacity="0.076" stroke-width="1.0"/>
<rect x="506.4" y="105.2" width="36.3" height="52.0" fill="none" stroke="#3ddb86" stroke-opacity="0.111" stroke-width="1.0"/>
<rect x="492.0" y="88.8" width="64.9" height="84.8" fill="none" stroke="#3ddb86" stroke-opacity="0.109" stroke-width="1.0"/>
<rect x="511.1" y="107.2" width="26.8" height="48.0" fill="none" stroke="#3ddb86" stroke-opacity="0.082" stroke-width="1.0"/>
<rect x="510.0" y="112.3" width="29.1" height="37.7" fill="none" stroke="#48f90a" stroke-opacity="0.112" stroke-width="1.0"/>
<rect x="507.0" y="101.7" width="35.1" height="58.9" fill="none" stroke="#3ddb86" stroke-opacity="0.072" stroke-width="1.0"/>
<rect x="493.3" y="83.4" width="62.4" height="95.7" fill="none" stroke="#3ddb86" stroke-opacity="0.096" stroke-width="1.0"/>
<rect x="492.4" y="89.0" width="64.1" height="84.5" fill="none" stroke="#48f90a" stroke-opacity="0.090" stroke-width="1.0"/>
<rect x="507.9" y="103.2" width="33.1" height="56.1" fill="none" stroke="#48f90a" stroke-opacity="0.112" stroke-width="1.0"/>
<rect x="489.4" y="89.9" width="70.3" height="82.5" fill="none" stroke="#3ddb86" stroke-opacity="0.062" stroke-width="1.0"/>
<rect x="509.4" y="110.9" width="30.1" height="40.7" fill="none" stroke="#48f90a" stroke-opacity="0.115" stroke-width="1.0"/>
<rect x="500.3" y="105.9" width="48.4" height="50.6" fill="none" stroke="#3ddb86" stroke-opacity="0.114" stroke-width="1.0"/>
<rect x="504.9" y="104.5" width="39.2" height="53.4" fill="none" stroke="#48f90a" stroke-opacity="0.120" stroke-width="1.0"/>
<rect x="498.9" y="94.0" width="51.3" height="74.3" fill="none" stroke="#3ddb86" stroke-opacity="0.068" stroke-width="1.0"/>
<rect x="488.0" y="84.8" width="72.9" height="92.7" fill="none" stroke="#48f90a" stroke-opacity="0.106" stroke-width="1.0"/>
<rect x="492.9" y="89.6" width="63.3" height="83.1" fill="none" stroke="#48f90a" stroke-opacity="0.062" stroke-width="1.0"/>
<rect x="490.9" y="96.8" width="67.2" height="68.8" fill="none" stroke="#48f90a" stroke-opacity="0.105" stroke-width="1.0"/>
<rect x="483.5" y="96.8" width="81.9" height="68.8" fill="none" stroke="#48f90a" stroke-opacity="0.068" stroke-width="1.0"/>
<rect x="494.2" y="88.0" width="60.5" height="86.5" fill="none" stroke="#3ddb86" stroke-opacity="0.062" stroke-width="1.0"/>
<rect x="487.2" y="71.4" width="74.5" height="119.6" fill="none" stroke="#3ddb86" stroke-opacity="0.068" stroke-width="1.0"/>
<rect x="483.8" y="90.2" width="81.5" height="82.0" fill="none" stroke="#3ddb86" stroke-opacity="0.069" stroke-width="1.0"/>
<rect x="493.3" y="93.2" width="62.4" height="76.0" fill="none" stroke="#48f90a" stroke-opacity="0.066" stroke-width="1.0"/>
<rect x="489.2" y="98.6" width="70.6" height="65.2" fill="none" stroke="#48f90a" stroke-opacity="0.093" stroke-width="1.0"/>
<rect x="494.2" y="79.7" width="60.6" height="103.1" fill="none" stroke="#48f90a" stroke-opacity="0.093" stroke-width="1.0"/>
<rect x="493.0" y="91.5" width="63.1" height="79.5" fill="none" stroke="#48f90a" stroke-opacity="0.100" stroke-width="1.0"/>
<rect x="496.4" y="91.6" width="56.1" height="79.2" fill="none" stroke="#3ddb86" stroke-opacity="0.085" stroke-width="1.0"/>
<rect x="479.6" y="101.8" width="89.7" height="58.7" fill="none" stroke="#3ddb86" stroke-opacity="0.063" stroke-width="1.0"/>
<rect x="490.8" y="93.1" width="67.4" height="76.2" fill="none" stroke="#48f90a" stroke-opacity="0.113" stroke-width="1.0"/>
<rect x="494.6" y="87.9" width="59.9" height="86.5" fill="none" stroke="#48f90a" stroke-opacity="0.087" stroke-width="1.0"/>
<rect x="488.6" y="106.6" width="71.7" height="49.2" fill="none" stroke="#3ddb86" stroke-opacity="0.094" stroke-width="1.0"/>
<rect x="499.9" y="102.4" width="49.2" height="57.5" fill="none" stroke="#3ddb86" stroke-opacity="0.117" stroke-width="1.0"/>
<rect x="494.3" y="71.3" width="60.4" height="119.8" fill="none" stroke="#3ddb86" stroke-opacity="0.095" stroke-width="1.0"/>
<rect x="488.2" y="96.1" width="72.6" height="70.2" fill="none" stroke="#48f90a" stroke-opacity="0.104" stroke-width="1.0"/>
<rect x="491.5" y="104.9" width="65.9" height="52.6" fill="none" stroke="#3ddb86" stroke-opacity="0.078" stroke-width="1.0"/>
<rect x="476.4" y="105.6" width="96.2" height="51.3" fill="none" stroke="#3ddb86" stroke-opacity="0.087" stroke-width="1.0"/>
<rect x="496.1" y="92.8" width="56.7" height="76.8" fill="none" stroke="#3ddb86" stroke-opacity="0.072" stroke-width="1.0"/>
<rect x="490.0" y="93.3" width="69.0" height="75.8" fill="none" stroke="#48f90a" stroke-opacity="0.067" stroke-width="1.0"/>
<rect x="497.8" y="81.3" width="53.4" height="99.8" fill="none" stroke="#3ddb86" stroke-opacity="0.076" stroke-width="1.0"/>
<rect x="493.6" y="96.3" width="61.7" height="69.7" fill="none" stroke="#48f90a" stroke-opacity="0.076" stroke-width="1.0"/>
<rect x="491.4" y="71.0" width="66.2" height="120.3" fill="none" stroke="#48f90a" stroke-opacity="0.070" stroke-width="1.0"/>
<rect x="500.7" y="93.8" width="47.6" height="74.8" fill="none" stroke="#3ddb86" stroke-opacity="0.113" stroke-width="1.0"/>
<rect x="483.6" y="111.4" width="81.8" height="39.6" fill="none" stroke="#3ddb86" stroke-opacity="0.096" stroke-width="1.0"/>
<rect x="494.4" y="97.8" width="60.1" height="66.8" fill="none" stroke="#48f90a" stroke-opacity="0.063" stroke-width="1.0"/>
<rect x="495.2" y="81.8" width="58.5" height="98.9" fill="none" stroke="#48f90a" stroke-opacity="0.062" stroke-width="1.0"/>
<rect x="490.9" y="103.0" width="67.2" height="56.4" fill="none" stroke="#3ddb86" stroke-opacity="0.097" stroke-width="1.0"/>
<rect x="485.6" y="92.6" width="77.7" height="77.2" fill="none" stroke="#48f90a" stroke-opacity="0.102" stroke-width="1.0"/>
<rect x="493.0" y="95.2" width="63.1" height="72.1" fill="none" stroke="#48f90a" stroke-opacity="0.064" stroke-width="1.0"/>
<rect x="487.8" y="107.6" width="73.3" height="47.3" fill="none" stroke="#3ddb86" stroke-opacity="0.103" stroke-width="1.0"/>
<rect x="500.6" y="71.6" width="47.9" height="119.3" fill="none" stroke="#3ddb86" stroke-opacity="0.067" stroke-width="1.0"/>
<rect x="490.5" y="86.5" width="68.1" height="89.5" fill="none" stroke="#3ddb86" stroke-opacity="0.078" stroke-width="1.0"/>
<rect x="500.5" y="88.2" width="48.0" height="86.0" fill="none" stroke="#48f90a" stroke-opacity="0.088" stroke-width="1.0"/>
<rect x="498.3" y="89.8" width="52.4" height="82.9" fill="none" stroke="#3ddb86" stroke-opacity="0.079" stroke-width="1.0"/>
<rect x="482.4" y="95.3" width="84.3" height="71.8" fill="none" stroke="#3ddb86" stroke-opacity="0.081" stroke-width="1.0"/>
<rect x="501.9" y="84.6" width="45.1" height="93.2" fill="none" stroke="#3ddb86" stroke-opacity="0.091" stroke-width="1.0"/>
<rect x="486.0" y="92.7" width="77.0" height="77.1" fill="none" stroke="#48f90a" stroke-opacity="0.070" stroke-width="1.0"/>
<rect x="492.2" y="91.4" width="64.5" height="79.6" fill="none" stroke="#48f90a" stroke-opacity="0.076" stroke-width="1.0"/>
<rect x="480.5" y="100.4" width="87.9" height="61.5" fill="none" stroke="#3ddb86" stroke-opacity="0.093" stroke-width="1.0"/>
<rect x="488.1" y="95.1" width="72.9" height="72.1" fill="none" stroke="#3ddb86" stroke-opacity="0.110" stroke-width="1.0"/>
<rect x="495.9" y="96.4" width="57.2" height="69.7" fill="none" stroke="#3ddb86" stroke-opacity="0.086" stroke-width="1.0"/>
<rect x="496.2" y="79.4" width="56.6" height="103.6" fill="none" stroke="#48f90a" stroke-opacity="0.098" stroke-width="1.0"/>
<rect x="484.0" y="107.4" width="81.0" height="47.6" fill="none" stroke="#48f90a" stroke-opacity="0.101" stroke-width="1.0"/>
<rect x="503.3" y="98.5" width="42.4" height="65.5" fill="none" stroke="#3ddb86" stroke-opacity="0.111" stroke-width="1.0"/>
<rect x="489.3" y="91.4" width="70.4" height="79.6" fill="none" stroke="#3ddb86" stroke-opacity="0.083" stroke-width="1.0"/>
<rect x="484.3" y="100.3" width="80.3" height="61.7" fill="none" stroke="#3ddb86" stroke-opacity="0.066" stroke-width="1.0"/>
<rect x="505.5" y="84.0" width="38.0" height="94.4" fill="none" stroke="#3ddb86" stroke-opacity="0.064" stroke-width="1.0"/>
<rect x="498.7" y="101.0" width="51.7" height="60.4" fill="none" stroke="#48f90a" stroke-opacity="0.064" stroke-width="1.0"/>
<rect x="495.9" y="97.6" width="57.1" height="67.2" fill="none" stroke="#48f90a" stroke-opacity="0.107" stroke-width="1.0"/>
<rect x="497.5" y="74.9" width="54.0" height="112.6" fill="none" stroke="#48f90a" stroke-opacity="0.088" stroke-width="1.0"/>
<rect x="502.0" y="84.4" width="44.9" height="93.5" fill="none" stroke="#3ddb86" stroke-opacity="0.092" stroke-width="1.0"/>
<rect x="482.7" y="96.2" width="83.6" height="70.1" fill="none" stroke="#3ddb86" stroke-opacity="0.116" stroke-width="1.0"/>
<rect x="504.4" y="86.9" width="40.2" height="88.6" fill="none" stroke="#48f90a" stroke-opacity="0.070" stroke-width="1.0"/>
<rect x="494.8" y="91.9" width="59.4" height="78.5" fill="none" stroke="#48f90a" stroke-opacity="0.065" stroke-width="1.0"/>
<rect x="487.1" y="97.5" width="74.9" height="67.3" fill="none" stroke="#3ddb86" stroke-opacity="0.087" stroke-width="1.0"/>
<rect x="492.6" y="87.1" width="63.9" height="88.2" fill="none" stroke="#3ddb86" stroke-opacity="0.119" stroke-width="1.0"/>
<rect x="500.6" y="80.7" width="47.7" height="101.1" fill="none" stroke="#3ddb86" stroke-opacity="0.115" stroke-width="1.0"/>
<rect x="479.7" y="92.9" width="89.6" height="76.7" fill="none" stroke="#3ddb86" stroke-opacity="0.064" stroke-width="1.0"/>
<rect x="478.6" y="88.8" width="91.7" height="84.9" fill="none" stroke="#48f90a" stroke-opacity="0.078" stroke-width="1.0"/>
<rect x="491.6" y="98.0" width="65.9" height="66.5" fill="none" stroke="#3ddb86" stroke-opacity="0.105" stroke-width="1.0"/>
<rect x="495.1" y="93.9" width="58.7" height="74.7" fill="none" stroke="#3ddb86" stroke-opacity="0.066" stroke-width="1.0"/>
<rect x="478.7" y="93.4" width="91.7" height="75.6" fill="none" stroke="#48f90a" stroke-opacity="0.087" stroke-width="1.0"/>
<rect x="496.2" y="93.0" width="56.6" height="76.4" fill="none" stroke="#48f90a" stroke-opacity="0.103" stroke-width="1.0"/>
<rect x="489.2" y="86.4" width="70.6" height="89.6" fill="none" stroke="#3ddb86" stroke-opacity="0.108" stroke-width="1.0"/>
<rect x="479.6" y="92.7" width="89.9" height="76.9" fill="none" stroke="#3ddb86" stroke-opacity="0.098" stroke-width="1.0"/>
<rect x="489.1" y="93.6" width="70.8" height="75.2" fill="none" stroke="#3ddb86" stroke-opacity="0.067" stroke-width="1.0"/>
<rect x="498.6" y="96.2" width="51.7" height="70.0" fill="none" stroke="#3ddb86" stroke-opacity="0.089" stroke-width="1.0"/>
<rect x="503.6" y="83.7" width="41.8" height="95.0" fill="none" stroke="#3ddb86" stroke-opacity="0.115" stroke-width="1.0"/>
<rect x="499.3" y="101.3" width="50.4" height="59.9" fill="none" stroke="#3ddb86" stroke-opacity="0.068" stroke-width="1.0"/>
<rect x="480.0" y="94.5" width="88.9" height="73.5" fill="none" stroke="#3ddb86" stroke-opacity="0.077" stroke-width="1.0"/>
<rect x="497.1" y="77.1" width="54.8" height="108.2" fill="none" stroke="#48f90a" stroke-opacity="0.060" stroke-width="1.0"/>
<rect x="500.3" y="82.1" width="48.5" height="98.2" fill="none" stroke="#48f90a" stroke-opacity="0.109" stroke-width="1.0"/>
<rect x="491.1" y="104.0" width="66.7" height="54.4" fill="none" stroke="#3ddb86" stroke-opacity="0.090" stroke-width="1.0"/>
<rect x="493.1" y="96.6" width="62.8" height="69.2" fill="none" stroke="#48f90a" stroke-opacity="0.070" stroke-width="1.0"/>
<rect x="498.5" y="98.2" width="52.0" height="66.0" fill="none" stroke="#48f90a" stroke-opacity="0.106" stroke-width="1.0"/>
<rect x="494.1" y="88.5" width="60.8" height="85.3" fill="none" stroke="#3ddb86" stroke-opacity="0.060" stroke-width="1.0"/>
<rect x="504.1" y="72.0" width="40.8" height="118.4" fill="none" stroke="#3ddb86" stroke-opacity="0.118" stroke-width="1.0"/>
<rect x="497.4" y="87.2" width="54.2" height="88.0" fill="none" stroke="#48f90a" stroke-opacity="0.099" stroke-width="1.0"/>
<rect x="486.5" y="102.4" width="75.9" height="57.6" fill="none" stroke="#3ddb86" stroke-opacity="0.099" stroke-width="1.0"/>
<rect x="493.7" y="77.3" width="61.6" height="107.8" fill="none" stroke="#3ddb86" stroke-opacity="0.095" stroke-width="1.0"/>
<rect x="494.0" y="92.5" width="61.0" height="77.4" fill="none" stroke="#48f90a" stroke-opacity="0.095" stroke-width="1.0"/>
<rect x="498.6" y="96.2" width="51.8" height="69.9" fill="none" stroke="#3ddb86" stroke-opacity="0.096" stroke-width="1.0"/>
<rect x="491.4" y="87.1" width="66.1" height="88.2" fill="none" stroke="#48f90a" stroke-opacity="0.114" stroke-width="1.0"/>
<rect x="497.2" y="96.9" width="54.6" height="68.5" fill="none" stroke="#48f90a" stroke-opacity="0.063" stroke-width="1.0"/>
<rect x="503.9" y="68.6" width="41.2" height="125.2" fill="none" stroke="#48f90a" stroke-opacity="0.070" stroke-width="1.0"/>
<rect x="503.1" y="68.0" width="42.8" height="126.4" fill="none" stroke="#48f90a" stroke-opacity="0.089" stroke-width="1.0"/>
<rect x="497.5" y="99.8" width="54.0" height="62.8" fill="none" stroke="#3ddb86" stroke-opacity="0.097" stroke-width="1.0"/>
<rect x="498.1" y="82.5" width="52.8" height="97.4" fill="none" stroke="#3ddb86" stroke-opacity="0.072" stroke-width="1.0"/>
<rect x="493.6" y="101.9" width="61.7" height="58.6" fill="none" stroke="#3ddb86" stroke-opacity="0.072" stroke-width="1.0"/>
<rect x="502.0" y="86.8" width="45.0" height="88.7" fill="none" stroke="#48f90a" stroke-opacity="0.092" stroke-width="1.0"/>
<rect x="495.0" y="82.7" width="59.0" height="97.0" fill="none" stroke="#48f90a" stroke-opacity="0.060" stroke-width="1.0"/>
<rect x="488.4" y="99.1" width="72.2" height="64.1" fill="none" stroke="#48f90a" stroke-opacity="0.083" stroke-width="1.0"/>
<rect x="491.9" y="87.3" width="65.2" height="87.7" fill="none" stroke="#48f90a" stroke-opacity="0.101" stroke-width="1.0"/>
<rect x="496.6" y="90.9" width="55.9" height="80.6" fill="none" stroke="#48f90a" stroke-opacity="0.069" stroke-width="1.0"/>
<rect x="494.9" y="74.5" width="59.2" height="113.4" fill="none" stroke="#3ddb86" stroke-opacity="0.106" stroke-width="1.0"/>
<rect x="488.0" y="97.6" width="73.0" height="67.2" fill="none" stroke="#3ddb86" stroke-opacity="0.106" stroke-width="1.0"/>
<rect x="508.5" y="86.5" width="31.9" height="89.4" fill="none" stroke="#48f90a" stroke-opacity="0.109" stroke-width="1.0"/>
<rect x="505.6" y="90.0" width="37.8" height="82.4" fill="none" stroke="#48f90a" stroke-opacity="0.104" stroke-width="1.0"/>
<rect x="498.8" y="90.7" width="51.3" height="81.0" fill="none" stroke="#48f90a" stroke-opacity="0.072" stroke-width="1.0"/>
<rect x="492.4" y="95.2" width="64.2" height="72.0" fill="none" stroke="#3ddb86" stroke-opacity="0.086" stroke-width="1.0"/>
<rect x="495.8" y="81.8" width="57.4" height="98.8" fill="none" stroke="#3ddb86" stroke-opacity="0.060" stroke-width="1.0"/>
<rect x="502.3" y="91.8" width="44.4" height="78.8" fill="none" stroke="#48f90a" stroke-opacity="0.105" stroke-width="1.0"/>
<rect x="486.1" y="89.1" width="76.8" height="84.3" fill="none" stroke="#3ddb86" stroke-opacity="0.104" stroke-width="1.0"/>
<rect x="502.9" y="87.8" width="43.3" height="86.9" fill="none" stroke="#3ddb86" stroke-opacity="0.060" stroke-width="1.0"/>
<rect x="503.9" y="80.8" width="41.1" height="100.7" fill="none" stroke="#48f90a" stroke-opacity="0.076" stroke-width="1.0"/>
<rect x="486.7" y="105.0" width="75.6" height="52.4" fill="none" stroke="#48f90a" stroke-opacity="0.070" stroke-width="1.0"/>
<rect x="493.4" y="83.8" width="62.2" height="94.8" fill="none" stroke="#3ddb86" stroke-opacity="0.067" stroke-width="1.0"/>
<rect x="480.3" y="106.9" width="88.4" height="48.5" fill="none" stroke="#48f90a" stroke-opacity="0.073" stroke-width="1.0"/>
<rect x="487.8" y="97.3" width="73.3" height="67.7" fill="none" stroke="#48f90a" stroke-opacity="0.065" stroke-width="1.0"/>
<rect x="496.1" y="99.1" width="56.9" height="64.2" fill="none" stroke="#3ddb86" stroke-opacity="0.111" stroke-width="1.0"/>
<rect x="491.8" y="85.3" width="65.4" height="91.9" fill="none" stroke="#48f90a" stroke-opacity="0.116" stroke-width="1.0"/>
<rect x="504.4" y="80.9" width="40.1" height="100.6" fill="none" stroke="#48f90a" stroke-opacity="0.062" stroke-width="1.0"/>
<rect x="489.0" y="104.9" width="71.0" height="52.7" fill="none" stroke="#48f90a" stroke-opacity="0.078" stroke-width="1.0"/>
<rect x="482.1" y="101.4" width="84.8" height="59.6" fill="none" stroke="#3ddb86" stroke-opacity="0.064" stroke-width="1.0"/>
<rect x="487.1" y="90.2" width="74.8" height="82.0" fill="none" stroke="#3ddb86" stroke-opacity="0.110" stroke-width="1.0"/>
<rect x="493.4" y="96.9" width="62.2" height="68.6" fill="none" stroke="#48f90a" stroke-opacity="0.078" stroke-width="1.0"/>
<rect x="499.1" y="83.0" width="50.7" height="96.4" fill="none" stroke="#48f90a" stroke-opacity="0.065" stroke-width="1.0"/>
<rect x="487.3" y="91.1" width="74.4" height="80.2" fill="none" stroke="#48f90a" stroke-opacity="0.088" stroke-width="1.0"/>
<rect x="480.7" y="91.4" width="87.7" height="79.6" fill="none" stroke="#48f90a" stroke-opacity="0.102" stroke-width="1.0"/>
<rect x="499.8" y="86.6" width="49.3" height="89.2" fill="none" stroke="#48f90a" stroke-opacity="0.109" stroke-width="1.0"/>
<rect x="487.8" y="101.1" width="73.4" height="60.2" fill="none" stroke="#3ddb86" stroke-opacity="0.066" stroke-width="1.0"/>
<rect x="488.8" y="96.2" width="71.4" height="69.9" fill="none" stroke="#48f90a" stroke-opacity="0.116" stroke-width="1.0"/>
<rect x="493.5" y="85.3" width="62.0" height="91.7" fill="none" stroke="#3ddb86" stroke-opacity="0.113" stroke-width="1.0"/>
<rect x="489.0" y="92.1" width="71.0" height="78.3" fill="none" stroke="#3ddb86" stroke-opacity="0.116" stroke-width="1.0"/>
<rect x="489.9" y="83.8" width="69.1" height="94.8" fill="none" stroke="#3ddb86" stroke-opacity="0.104" stroke-width="1.0"/>
<rect x="496.0" y="84.6" width="56.9" height="93.3" fill="none" stroke="#48f90a" stroke-opacity="0.064" stroke-width="1.0"/>
<rect x="500.8" y="74.5" width="47.3" height="113.4" fill="none" stroke="#3ddb86" stroke-opacity="0.086" stroke-width="1.0"/>
<rect x="490.9" y="84.9" width="67.1" height="92.7" fill="none" stroke="#3ddb86" stroke-opacity="0.070" stroke-width="1.0"/>
<rect x="480.7" y="92.3" width="87.6" height="77.9" fill="none" stroke="#3ddb86" stroke-opacity="0.094" stroke-width="1.0"/>
<rect x="477.8" y="92.2" width="93.5" height="78.0" fill="none" stroke="#48f90a" stroke-opacity="0.111" stroke-width="1.0"/>
<rect x="494.0" y="80.3" width="61.0" height="101.9" fill="none" stroke="#3ddb86" stroke-opacity="0.111" stroke-width="1.0"/>
<rect x="495.8" y="72.4" width="57.4" height="117.7" fill="none" stroke="#3ddb86" stroke-opacity="0.082" stroke-width="1.0"/>
<rect x="494.5" y="81.0" width="60.1" height="100.4" fill="none" stroke="#48f90a" stroke-opacity="0.083" stroke-width="1.0"/>
<rect x="512.0" y="84.1" width="25.1" height="94.2" fill="none" stroke="#3ddb86" stroke-opacity="0.069" stroke-width="1.0"/>
<rect x="506.5" y="102.7" width="36.1" height="56.9" fill="none" stroke="#3ddb86" stroke-opacity="0.077" stroke-width="1.0"/>
<rect x="501.1" y="92.6" width="46.8" height="77.2" fill="none" stroke="#48f90a" stroke-opacity="0.079" stroke-width="1.0"/>
<rect x="490.6" y="82.6" width="67.7" height="97.2" fill="none" stroke="#3ddb86" stroke-opacity="0.091" stroke-width="1.0"/>
<rect x="496.1" y="78.4" width="56.8" height="105.7" fill="none" stroke="#3ddb86" stroke-opacity="0.109" stroke-width="1.0"/>
<rect x="486.4" y="90.7" width="76.3" height="81.0" fill="none" stroke="#48f90a" stroke-opacity="0.113" stroke-width="1.0"/>
<rect x="494.8" y="94.8" width="59.3" height="72.8" fill="none" stroke="#48f90a" stroke-opacity="0.107" stroke-width="1.0"/>
<rect x="491.3" y="94.3" width="66.4" height="73.7" fill="none" stroke="#3ddb86" stroke-opacity="0.081" stroke-width="1.0"/>
<rect x="490.0" y="84.2" width="69.0" height="93.9" fill="none" stroke="#3ddb86" stroke-opacity="0.090" stroke-width="1.0"/>
<rect x="492.1" y="92.7" width="64.8" height="77.1" fill="none" stroke="#48f90a" stroke-opacity="0.115" stroke-width="1.0"/>
<rect x="495.0" y="71.3" width="59.0" height="119.9" fill="none" stroke="#3ddb86" stroke-opacity="0.073" stroke-width="1.0"/>
<rect x="491.1" y="92.8" width="66.8" height="76.7" fill="none" stroke="#48f90a" stroke-opacity="0.106" stroke-width="1.0"/>
<rect x="500.8" y="75.3" width="47.3" height="111.7" fill="none" stroke="#48f90a" stroke-opacity="0.075" stroke-width="1.0"/>
<rect x="492.4" y="79.2" width="64.2" height="104.1" fill="none" stroke="#3ddb86" stroke-opacity="0.115" stroke-width="1.0"/>
<rect x="498.6" y="78.5" width="51.8" height="105.4" fill="none" stroke="#3ddb86" stroke-opacity="0.085" stroke-width="1.0"/>
<rect x="500.4" y="97.5" width="48.2" height="67.4" fill="none" stroke="#48f90a" stroke-opacity="0.071" stroke-width="1.0"/>
<rect x="495.1" y="96.9" width="58.9" height="68.6" fill="none" stroke="#48f90a" stroke-opacity="0.106" stroke-width="1.0"/>
<rect x="492.7" y="102.3" width="63.5" height="57.8" fill="none" stroke="#48f90a" stroke-opacity="0.104" stroke-width="1.0"/>
<rect x="490.2" y="92.0" width="68.6" height="78.5" fill="none" stroke="#3ddb86" stroke-opacity="0.073" stroke-width="1.0"/>
<rect x="501.2" y="104.2" width="46.6" height="54.0" fill="none" stroke="#48f90a" stroke-opacity="0.062" stroke-width="1.0"/>
<rect x="494.1" y="93.0" width="60.8" height="76.3" fill="none" stroke="#48f90a" stroke-opacity="0.104" stroke-width="1.0"/>
<rect x="494.5" y="73.7" width="59.9" height="115.1" fill="none" stroke="#3ddb86" stroke-opacity="0.117" stroke-width="1.0"/>
<rect x="476.6" y="107.1" width="95.8" height="48.2" fill="none" stroke="#48f90a" stroke-opacity="0.096" stroke-width="1.0"/>
<rect x="488.5" y="93.6" width="72.0" height="75.2" fill="none" stroke="#3ddb86" stroke-opacity="0.076" stroke-width="1.0"/>
<rect x="492.5" y="80.0" width="64.1" height="102.3" fill="none" stroke="#3ddb86" stroke-opacity="0.078" stroke-width="1.0"/>
<rect x="485.5" y="78.4" width="78.0" height="105.5" fill="none" stroke="#3ddb86" stroke-opacity="0.072" stroke-width="1.0"/>
<rect x="500.1" y="76.5" width="48.8" height="109.4" fill="none" stroke="#48f90a" stroke-opacity="0.074" stroke-width="1.0"/>
<rect x="498.7" y="90.1" width="51.5" height="82.2" fill="none" stroke="#3ddb86" stroke-opacity="0.073" stroke-width="1.0"/>
<rect x="489.4" y="78.3" width="70.2" height="105.9" fill="none" stroke="#3ddb86" stroke-opacity="0.067" stroke-width="1.0"/>
<rect x="483.5" y="103.5" width="82.0" height="55.4" fill="none" stroke="#3ddb86" stroke-opacity="0.089" stroke-width="1.0"/>
<rect x="502.7" y="85.0" width="43.6" height="92.3" fill="none" stroke="#3ddb86" stroke-opacity="0.065" stroke-width="1.0"/>
<rect x="500.2" y="91.9" width="48.7" height="78.6" fill="none" stroke="#3ddb86" stroke-opacity="0.099" stroke-width="1.0"/>
<rect x="482.1" y="91.2" width="84.7" height="80.0" fill="none" stroke="#3ddb86" stroke-opacity="0.089" stroke-width="1.0"/>
<rect x="482.8" y="110.2" width="83.4" height="42.1" fill="none" stroke="#3ddb86" stroke-opacity="0.061" stroke-width="1.0"/>
<rect x="496.3" y="88.6" width="56.5" height="85.2" fill="none" stroke="#3ddb86" stroke-opacity="0.083" stroke-width="1.0"/>
<rect x="498.4" y="74.4" width="52.3" height="113.6" fill="none" stroke="#3ddb86" stroke-opacity="0.099" stroke-width="1.0"/>
<rect x="504.2" y="93.4" width="40.5" height="75.7" fill="none" stroke="#3ddb86" stroke-opacity="0.098" stroke-width="1.0"/>
<rect x="488.7" y="86.4" width="71.6" height="89.7" fill="none" stroke="#48f90a" stroke-opacity="0.115" stroke-width="1.0"/>
<rect x="502.1" y="93.3" width="44.8" height="75.9" fill="none" stroke="#3ddb86" stroke-opacity="0.076" stroke-width="1.0"/>
<rect x="492.5" y="76.9" width="64.0" height="108.7" fill="none" stroke="#3ddb86" stroke-opacity="0.065" stroke-width="1.0"/>
<rect x="480.0" y="94.7" width="88.9" height="73.0" fill="none" stroke="#3ddb86" stroke-opacity="0.075" stroke-width="1.0"/>
<rect x="501.3" y="95.6" width="46.3" height="71.3" fill="none" stroke="#3ddb86" stroke-opacity="0.064" stroke-width="1.0"/>
<rect x="476.8" y="110.5" width="95.5" height="41.4" fill="none" stroke="#48f90a" stroke-opacity="0.100" stroke-width="1.0"/>
<rect x="483.4" y="83.0" width="82.3" height="96.4" fill="none" stroke="#3ddb86" stroke-opacity="0.064" stroke-width="1.0"/>
<rect x="503.8" y="86.6" width="41.5" height="89.1" fill="none" stroke="#3ddb86" stroke-opacity="0.063" stroke-width="1.0"/>
<rect x="479.3" y="103.1" width="90.3" height="56.2" fill="none" stroke="#3ddb86" stroke-opacity="0.090" stroke-width="1.0"/>
<rect x="496.7" y="85.2" width="55.6" height="92.0" fill="none" stroke="#3ddb86" stroke-opacity="0.101" stroke-width="1.0"/>
<rect x="493.1" y="78.4" width="62.9" height="105.6" fill="none" stroke="#3ddb86" stroke-opacity="0.094" stroke-width="1.0"/>
<rect x="492.0" y="81.5" width="65.0" height="99.4" fill="none" stroke="#3ddb86" stroke-opacity="0.105" stroke-width="1.0"/>
<rect x="500.3" y="96.9" width="48.5" height="68.6" fill="none" stroke="#3ddb86" stroke-opacity="0.111" stroke-width="1.0"/>
<rect x="494.7" y="72.8" width="59.7" height="116.8" fill="none" stroke="#48f90a" stroke-opacity="0.116" stroke-width="1.0"/>
<rect x="497.6" y="76.8" width="53.8" height="108.8" fill="none" stroke="#3ddb86" stroke-opacity="0.117" stroke-width="1.0"/>
<rect x="502.9" y="71.9" width="43.2" height="118.5" fill="none" stroke="#48f90a" stroke-opacity="0.092" stroke-width="1.0"/>
<rect x="493.1" y="79.2" width="62.7" height="104.0" fill="none" stroke="#3ddb86" stroke-opacity="0.061" stroke-width="1.0"/>
<rect x="498.4" y="104.5" width="52.3" height="53.3" fill="none" stroke="#3ddb86" stroke-opacity="0.118" stroke-width="1.0"/>
<rect x="502.8" y="92.9" width="43.4" height="76.7" fill="none" stroke="#48f90a" stroke-opacity="0.111" stroke-width="1.0"/>
<rect x="496.9" y="104.5" width="55.2" height="53.3" fill="none" stroke="#48f90a" stroke-opacity="0.105" stroke-width="1.0"/>
<rect x="484.1" y="97.0" width="80.8" height="68.3" fill="none" stroke="#3ddb86" stroke-opacity="0.119" stroke-width="1.0"/>
<rect x="490.8" y="95.0" width="67.4" height="72.5" fill="none" stroke="#3ddb86" stroke-opacity="0.090" stroke-width="1.0"/>
<rect x="475.2" y="100.3" width="98.6" height="61.7" fill="none" stroke="#3ddb86" stroke-opacity="0.079" stroke-width="1.0"/>
<rect x="494.0" y="88.1" width="61.1" height="86.3" fill="none" stroke="#48f90a" stroke-opacity="0.090" stroke-width="1.0"/>
<rect x="502.5" y="92.0" width="44.1" height="78.4" fill="none" stroke="#3ddb86" stroke-opacity="0.077" stroke-width="1.0"/>
<rect x="487.4" y="94.6" width="74.2" height="73.3" fill="none" stroke="#3ddb86" stroke-opacity="0.087" stroke-width="1.0"/>
<rect x="495.8" y="79.8" width="57.4" height="102.7" fill="none" stroke="#48f90a" stroke-opacity="0.076" stroke-width="1.0"/>
<rect x="494.4" y="92.2" width="60.2" height="77.9" fill="none" stroke="#48f90a" stroke-opacity="0.107" stroke-width="1.0"/>
<rect x="493.4" y="89.4" width="62.2" height="83.6" fill="none" stroke="#3ddb86" stroke-opacity="0.117" stroke-width="1.0"/>
<rect x="485.0" y="90.5" width="78.9" height="81.5" fill="none" stroke="#3ddb86" stroke-opacity="0.066" stroke-width="1.0"/>
<rect x="483.6" y="94.0" width="81.8" height="74.4" fill="none" stroke="#3ddb86" stroke-opacity="0.091" stroke-width="1.0"/>
<rect x="493.6" y="92.4" width="61.7" height="77.6" fill="none" stroke="#48f90a" stroke-opacity="0.066" stroke-width="1.0"/>
<rect x="489.0" y="88.9" width="71.1" height="84.6" fill="none" stroke="#3ddb86" stroke-opacity="0.079" stroke-width="1.0"/>
<rect x="492.9" y="83.9" width="63.2" height="94.6" fill="none" stroke="#48f90a" stroke-opacity="0.083" stroke-width="1.0"/>
<rect x="502.7" y="73.4" width="43.6" height="115.7" fill="none" stroke="#3ddb86" stroke-opacity="0.103" stroke-width="1.0"/>
<rect x="486.1" y="84.8" width="76.9" height="92.9" fill="none" stroke="#48f90a" stroke-opacity="0.079" stroke-width="1.0"/>
<rect x="497.7" y="104.2" width="53.6" height="54.0" fill="none" stroke="#3ddb86" stroke-opacity="0.082" stroke-width="1.0"/>
<rect x="493.5" y="94.5" width="62.0" height="73.4" fill="none" stroke="#3ddb86" stroke-opacity="0.060" stroke-width="1.0"/>
<rect x="495.5" y="83.9" width="58.0" height="94.6" fill="none" stroke="#3ddb86" stroke-opacity="0.107" stroke-width="1.0"/>
<rect x="493.3" y="89.9" width="62.3" height="82.6" fill="none" stroke="#48f90a" stroke-opacity="0.095" stroke-width="1.0"/>
<rect x="480.9" y="92.2" width="87.2" height="78.0" fill="none" stroke="#48f90a" stroke-opacity="0.091" stroke-width="1.0"/>
<rect x="491.8" y="101.1" width="65.4" height="60.2" fill="none" stroke="#3ddb86" stroke-opacity="0.091" stroke-width="1.0"/>
<rect x="501.6" y="93.5" width="45.8" height="75.3" fill="none" stroke="#48f90a" stroke-opacity="0.067" stroke-width="1.0"/>
<rect x="485.2" y="83.0" width="78.6" height="96.3" fill="none" stroke="#48f90a" stroke-opacity="0.080" stroke-width="1.0"/>
<rect x="493.3" y="88.8" width="62.4" height="84.9" fill="none" stroke="#48f90a" stroke-opacity="0.076" stroke-width="1.0"/>
<rect x="490.6" y="83.3" width="67.8" height="95.9" fill="none" stroke="#3ddb86" stroke-opacity="0.064" stroke-width="1.0"/>
<rect x="480.9" y="91.9" width="87.1" height="78.6" fill="none" stroke="#48f90a" stroke-opacity="0.063" stroke-width="1.0"/>
<rect x="505.5" y="70.3" width="38.1" height="121.7" fill="none" stroke="#3ddb86" stroke-opacity="0.063" stroke-width="1.0"/>
<rect x="486.3" y="110.0" width="76.4" height="42.4" fill="none" stroke="#3ddb86" stroke-opacity="0.069" stroke-width="1.0"/>
<rect x="480.2" y="94.6" width="88.6" height="73.3" fill="none" stroke="#3ddb86" stroke-opacity="0.086" stroke-width="1.0"/>
<rect x="491.1" y="78.0" width="66.7" height="106.4" fill="none" stroke="#48f90a" stroke-opacity="0.094" stroke-width="1.0"/>
<rect x="499.8" y="90.0" width="49.5" height="82.3" fill="none" stroke="#48f90a" stroke-opacity="0.113" stroke-width="1.0"/>
<rect x="481.4" y="94.0" width="86.3" height="74.4" fill="none" stroke="#3ddb86" stroke-opacity="0.100" stroke-width="1.0"/>
<rect x="494.4" y="74.6" width="60.1" height="113.3" fill="none" stroke="#3ddb86" stroke-opacity="0.077" stroke-width="1.0"/>
<rect x="482.2" y="101.3" width="84.6" height="59.7" fill="none" stroke="#3ddb86" stroke-opacity="0.062" stroke-width="1.0"/>
<rect x="510.9" y="114.1" width="27.2" height="34.2" fill="none" stroke="#48f90a" stroke-opacity="0.115" stroke-width="1.0"/>
<rect x="501.4" y="94.8" width="46.3" height="72.9" fill="none" stroke="#cfd231" stroke-opacity="0.079" stroke-width="1.0"/>
<rect x="509.7" y="101.4" width="29.7" height="59.6" fill="none" stroke="#92cc17" stroke-opacity="0.102" stroke-width="1.0"/>
<rect x="503.2" y="91.4" width="42.6" height="79.5" fill="none" stroke="#92cc17" stroke-opacity="0.067" stroke-width="1.0"/>
<rect x="513.8" y="112.2" width="21.5" height="38.0" fill="none" stroke="#3ddb86" stroke-opacity="0.090" stroke-width="1.0"/>
<rect x="507.5" y="94.8" width="34.0" height="72.7" fill="none" stroke="#92cc17" stroke-opacity="0.090" stroke-width="1.0"/>
<rect x="513.8" y="115.1" width="21.4" height="32.3" fill="none" stroke="#92cc17" stroke-opacity="0.088" stroke-width="1.0"/>
<rect x="506.8" y="102.6" width="35.4" height="57.1" fill="none" stroke="#92cc17" stroke-opacity="0.084" stroke-width="1.0"/>
<rect x="509.7" y="101.8" width="29.7" height="58.8" fill="none" stroke="#48f90a" stroke-opacity="0.119" stroke-width="1.0"/>
<rect x="511.6" y="109.3" width="25.8" height="43.8" fill="none" stroke="#92cc17" stroke-opacity="0.113" stroke-width="1.0"/>
<rect x="511.3" y="104.8" width="26.5" height="52.7" fill="none" stroke="#92cc17" stroke-opacity="0.105" stroke-width="1.0"/>
<rect x="510.7" y="107.4" width="27.6" height="47.7" fill="none" stroke="#cfd231" stroke-opacity="0.083" stroke-width="1.0"/>
<rect x="504.2" y="89.8" width="40.5" height="82.8" fill="none" stroke="#3ddb86" stroke-opacity="0.072" stroke-width="1.0"/>
<rect x="513.7" y="119.1" width="21.5" height="24.2" fill="none" stroke="#48f90a" stroke-opacity="0.125" stroke-width="1.0"/>
<rect x="505.7" y="87.3" width="37.6" height="87.9" fill="none" stroke="#cfd231" stroke-opacity="0.062" stroke-width="1.0"/>
<rect x="502.3" y="93.8" width="44.4" height="74.7" fill="none" stroke="#92cc17" stroke-opacity="0.096" stroke-width="1.0"/>
<rect x="504.1" y="96.1" width="40.9" height="70.2" fill="none" stroke="#cfd231" stroke-opacity="0.083" stroke-width="1.0"/>
<rect x="512.7" y="109.1" width="23.7" height="44.1" fill="none" stroke="#3ddb86" stroke-opacity="0.099" stroke-width="1.0"/>
<rect x="499.6" y="86.1" width="49.8" height="90.2" fill="none" stroke="#3ddb86" stroke-opacity="0.107" stroke-width="1.0"/>
<rect x="500.3" y="89.1" width="48.5" height="84.2" fill="none" stroke="#92cc17" stroke-opacity="0.108" stroke-width="1.0"/>
<rect x="498.8" y="90.1" width="51.4" height="82.1" fill="none" stroke="#48f90a" stroke-opacity="0.080" stroke-width="1.0"/>
<rect x="500.6" y="96.9" width="47.8" height="68.6" fill="none" stroke="#92cc17" stroke-opacity="0.102" stroke-width="1.0"/>
<rect x="508.3" y="106.9" width="32.4" height="48.6" fill="none" stroke="#cfd231" stroke-opacity="0.088" stroke-width="1.0"/>
<rect x="508.9" y="103.9" width="31.3" height="54.6" fill="none" stroke="#92cc17" stroke-opacity="0.128" stroke-width="1.0"/>
<rect x="505.0" y="101.1" width="39.0" height="60.2" fill="none" stroke="#48f90a" stroke-opacity="0.103" stroke-width="1.0"/>
<rect x="502.8" y="91.1" width="43.5" height="80.2" fill="none" stroke="#92cc17" stroke-opacity="0.066" stroke-width="1.0"/>
<rect x="515.5" y="110.3" width="18.0" height="41.7" fill="none" stroke="#48f90a" stroke-opacity="0.128" stroke-width="1.0"/>
<rect x="505.7" y="87.4" width="37.6" height="87.7" fill="none" stroke="#48f90a" stroke-opacity="0.121" stroke-width="1.0"/>
<rect x="516.8" y="119.2" width="15.4" height="24.0" fill="none" stroke="#cfd231" stroke-opacity="0.086" stroke-width="1.0"/>
<rect x="503.1" y="95.5" width="42.9" height="71.3" fill="none" stroke="#cfd231" stroke-opacity="0.115" stroke-width="1.0"/>
<rect x="505.5" y="98.4" width="37.9" height="65.6" fill="none" stroke="#92cc17" stroke-opacity="0.101" stroke-width="1.0"/>
<rect x="506.6" y="96.8" width="35.9" height="68.9" fill="none" stroke="#3ddb86" stroke-opacity="0.065" stroke-width="1.0"/>
<rect x="512.2" y="107.7" width="24.7" height="47.0" fill="none" stroke="#3ddb86" stroke-opacity="0.117" stroke-width="1.0"/>
<rect x="503.3" y="92.5" width="42.4" height="77.5" fill="none" stroke="#92cc17" stroke-opacity="0.091" stroke-width="1.0"/>
<rect x="516.0" y="118.4" width="17.0" height="25.5" fill="none" stroke="#3ddb86" stroke-opacity="0.091" stroke-width="1.0"/>
<rect x="516.1" y="116.0" width="16.9" height="30.3" fill="none" stroke="#cfd231" stroke-opacity="0.115" stroke-width="1.0"/>
<rect x="506.3" y="101.0" width="36.4" height="60.4" fill="none" stroke="#3ddb86" stroke-opacity="0.076" stroke-width="1.0"/>
<rect x="503.6" y="101.2" width="41.8" height="60.0" fill="none" stroke="#48f90a" stroke-opacity="0.068" stroke-width="1.0"/>
<rect x="514.8" y="112.3" width="19.3" height="37.8" fill="none" stroke="#48f90a" stroke-opacity="0.103" stroke-width="1.0"/>
<rect x="500.2" y="94.3" width="48.6" height="73.8" fill="none" stroke="#3ddb86" stroke-opacity="0.070" stroke-width="1.0"/>
<rect x="501.1" y="94.1" width="46.8" height="74.2" fill="none" stroke="#3ddb86" stroke-opacity="0.079" stroke-width="1.0"/>
<rect x="504.5" y="96.5" width="39.9" height="69.4" fill="none" stroke="#92cc17" stroke-opacity="0.129" stroke-width="1.0"/>
<rect x="506.3" y="97.4" width="36.4" height="67.5" fill="none" stroke="#48f90a" stroke-opacity="0.106" stroke-width="1.0"/>
<rect x="508.2" y="100.1" width="32.6" height="62.3" fill="none" stroke="#48f90a" stroke-opacity="0.093" stroke-width="1.0"/>
<rect x="499.7" y="92.6" width="49.7" height="77.3" fill="none" stroke="#48f90a" stroke-opacity="0.068" stroke-width="1.0"/>
<rect x="503.8" y="85.2" width="41.4" height="92.0" fill="none" stroke="#3ddb86" stroke-opacity="0.122" stroke-width="1.0"/>
<rect x="513.8" y="113.8" width="21.3" height="34.7" fill="none" stroke="#3ddb86" stroke-opacity="0.097" stroke-width="1.0"/>
<rect x="499.7" y="91.8" width="49.5" height="78.8" fill="none" stroke="#3ddb86" stroke-opacity="0.089" stroke-width="1.0"/>
<rect x="516.0" y="112.5" width="17.0" height="37.3" fill="none" stroke="#48f90a" stroke-opacity="0.087" stroke-width="1.0"/>
<rect x="515.1" y="114.8" width="18.7" height="32.9" fill="none" stroke="#cfd231" stroke-opacity="0.070" stroke-width="1.0"/>
<rect x="513.9" y="113.2" width="21.2" height="36.0" fill="none" stroke="#48f90a" stroke-opacity="0.091" stroke-width="1.0"/>
<rect x="501.6" y="96.9" width="45.8" height="68.7" fill="none" stroke="#92cc17" stroke-opacity="0.129" stroke-width="1.0"/>
<rect x="513.9" y="109.1" width="21.3" height="44.2" fill="none" stroke="#3ddb86" stroke-opacity="0.122" stroke-width="1.0"/>
<rect x="504.6" y="96.3" width="39.9" height="69.8" fill="none" stroke="#cfd231" stroke-opacity="0.087" stroke-width="1.0"/>
<rect x="500.9" y="85.2" width="47.2" height="92.0" fill="none" stroke="#48f90a" stroke-opacity="0.127" stroke-width="1.0"/>
<rect x="506.3" y="96.2" width="36.4" height="70.0" fill="none" stroke="#3ddb86" stroke-opacity="0.074" stroke-width="1.0"/>
<rect x="501.5" y="86.0" width="46.0" height="90.3" fill="none" stroke="#3ddb86" stroke-opacity="0.086" stroke-width="1.0"/>
<rect x="512.6" y="111.2" width="23.8" height="40.0" fill="none" stroke="#cfd231" stroke-opacity="0.065" stroke-width="1.0"/>
<rect x="501.0" y="88.7" width="47.1" height="85.0" fill="none" stroke="#92cc17" stroke-opacity="0.101" stroke-width="1.0"/>
<rect x="507.5" y="98.9" width="34.0" height="64.5" fill="none" stroke="#3ddb86" stroke-opacity="0.062" stroke-width="1.0"/>
<rect x="511.3" y="112.5" width="26.4" height="37.4" fill="none" stroke="#92cc17" stroke-opacity="0.118" stroke-width="1.0"/>
<rect x="508.5" y="94.9" width="32.0" height="72.5" fill="none" stroke="#cfd231" stroke-opacity="0.123" stroke-width="1.0"/>
<rect x="505.9" y="104.3" width="37.1" height="53.9" fill="none" stroke="#92cc17" stroke-opacity="0.109" stroke-width="1.0"/>
<rect x="510.4" y="100.3" width="28.3" height="61.8" fill="none" stroke="#3ddb86" stroke-opacity="0.074" stroke-width="1.0"/>
<rect x="511.4" y="103.3" width="26.2" height="55.8" fill="none" stroke="#92cc17" stroke-opacity="0.085" stroke-width="1.0"/>
<rect x="499.7" y="91.6" width="49.6" height="79.3" fill="none" stroke="#92cc17" stroke-opacity="0.128" stroke-width="1.0"/>
<rect x="514.1" y="112.1" width="20.7" height="38.3" fill="none" stroke="#92cc17" stroke-opacity="0.069" stroke-width="1.0"/>
<rect x="506.3" y="99.1" width="36.5" height="64.3" fill="none" stroke="#48f90a" stroke-opacity="0.125" stroke-width="1.0"/>
<rect x="508.4" y="102.8" width="32.2" height="56.8" fill="none" stroke="#92cc17" stroke-opacity="0.075" stroke-width="1.0"/>
<rect x="507.1" y="109.9" width="34.7" height="42.7" fill="none" stroke="#92cc17" stroke-opacity="0.087" stroke-width="1.0"/>
<rect x="500.9" y="85.2" width="47.2" height="92.0" fill="none" stroke="#92cc17" stroke-opacity="0.084" stroke-width="1.0"/>
<rect x="515.5" y="118.0" width="18.0" height="26.3" fill="none" stroke="#48f90a" stroke-opacity="0.106" stroke-width="1.0"/>
<rect x="507.2" y="86.8" width="34.6" height="88.9" fill="none" stroke="#3ddb86" stroke-opacity="0.109" stroke-width="1.0"/>
<rect x="514.0" y="114.0" width="21.0" height="34.3" fill="none" stroke="#92cc17" stroke-opacity="0.116" stroke-width="1.0"/>
<rect x="516.5" y="116.1" width="16.1" height="30.2" fill="none" stroke="#3ddb86" stroke-opacity="0.126" stroke-width="1.0"/>
<rect x="507.1" y="90.4" width="34.9" height="81.5" fill="none" stroke="#92cc17" stroke-opacity="0.124" stroke-width="1.0"/>
<rect x="499.1" y="85.8" width="50.8" height="90.7" fill="none" stroke="#92cc17" stroke-opacity="0.097" stroke-width="1.0"/>
<rect x="512.6" y="109.5" width="23.7" height="43.4" fill="none" stroke="#48f90a" stroke-opacity="0.126" stroke-width="1.0"/>
<rect x="499.8" y="92.6" width="49.3" height="77.2" fill="none" stroke="#92cc17" stroke-opacity="0.106" stroke-width="1.0"/>
<rect x="501.0" y="88.0" width="46.9" height="86.4" fill="none" stroke="#92cc17" stroke-opacity="0.098" stroke-width="1.0"/>
<rect x="512.6" y="112.3" width="23.8" height="37.8" fill="none" stroke="#3ddb86" stroke-opacity="0.086" stroke-width="1.0"/>
<rect x="500.7" y="90.4" width="47.6" height="81.7" fill="none" stroke="#92cc17" stroke-opacity="0.063" stroke-width="1.0"/>
<rect x="511.0" y="111.1" width="26.9" height="40.2" fill="none" stroke="#92cc17" stroke-opacity="0.086" stroke-width="1.0"/>
<rect x="506.4" y="92.6" width="36.1" height="77.2" fill="none" stroke="#cfd231" stroke-opacity="0.127" stroke-width="1.0"/>
<rect x="504.4" y="94.8" width="40.2" height="72.7" fill="none" stroke="#3ddb86" stroke-opacity="0.121" stroke-width="1.0"/>
<rect x="515.1" y="117.0" width="18.7" height="28.3" fill="none" stroke="#3ddb86" stroke-opacity="0.095" stroke-width="1.0"/>
<rect x="499.6" y="85.2" width="49.7" height="92.0" fill="none" stroke="#cfd231" stroke-opacity="0.066" stroke-width="1.0"/>
<rect x="503.8" y="89.9" width="41.4" height="82.6" fill="none" stroke="#92cc17" stroke-opacity="0.130" stroke-width="1.0"/>
<rect x="498.6" y="93.5" width="51.9" height="75.4" fill="none" stroke="#92cc17" stroke-opacity="0.123" stroke-width="1.0"/>
<rect x="510.6" y="109.8" width="27.8" height="42.8" fill="none" stroke="#48f90a" stroke-opacity="0.074" stroke-width="1.0"/>
<rect x="499.2" y="85.2" width="50.7" height="92.0" fill="none" stroke="#92cc17" stroke-opacity="0.078" stroke-width="1.0"/>
<rect x="499.0" y="85.2" width="50.9" height="92.0" fill="none" stroke="#48f90a" stroke-opacity="0.103" stroke-width="1.0"/>
<rect x="515.0" y="113.6" width="19.0" height="35.2" fill="none" stroke="#cfd231" stroke-opacity="0.106" stroke-width="1.0"/>
<rect x="500.8" y="90.3" width="47.4" height="81.8" fill="none" stroke="#48f90a" stroke-opacity="0.104" stroke-width="1.0"/>
<rect x="515.3" y="119.0" width="18.5" height="24.4" fill="none" stroke="#48f90a" stroke-opacity="0.087" stroke-width="1.0"/>
<rect x="500.2" y="99.4" width="48.7" height="63.5" fill="none" stroke="#3ddb86" stroke-opacity="0.124" stroke-width="1.0"/>
<rect x="515.1" y="112.2" width="18.9" height="38.0" fill="none" stroke="#cfd231" stroke-opacity="0.086" stroke-width="1.0"/>
<rect x="501.6" y="95.4" width="45.7" height="71.5" fill="none" stroke="#92cc17" stroke-opacity="0.092" stroke-width="1.0"/>
<rect x="509.5" y="104.3" width="30.0" height="53.8" fill="none" stroke="#48f90a" stroke-opacity="0.103" stroke-width="1.0"/>
<rect x="512.2" y="111.5" width="24.6" height="39.3" fill="none" stroke="#92cc17" stroke-opacity="0.107" stroke-width="1.0"/>
<rect x="502.0" y="85.2" width="45.1" height="92.0" fill="none" stroke="#3ddb86" stroke-opacity="0.106" stroke-width="1.0"/>
<rect x="501.0" y="85.2" width="47.0" height="92.0" fill="none" stroke="#48f90a" stroke-opacity="0.068" stroke-width="1.0"/>
<rect x="500.7" y="94.1" width="47.5" height="74.1" fill="none" stroke="#48f90a" stroke-opacity="0.072" stroke-width="1.0"/>
<rect x="507.2" y="103.6" width="34.5" height="55.3" fill="none" stroke="#48f90a" stroke-opacity="0.095" stroke-width="1.0"/>
<rect x="516.3" y="116.4" width="16.5" height="29.7" fill="none" stroke="#48f90a" stroke-opacity="0.083" stroke-width="1.0"/>
<rect x="513.0" y="113.4" width="23.1" height="35.5" fill="none" stroke="#48f90a" stroke-opacity="0.071" stroke-width="1.0"/>
<rect x="515.6" y="117.7" width="17.8" height="27.1" fill="none" stroke="#3ddb86" stroke-opacity="0.084" stroke-width="1.0"/>
<rect x="505.7" y="95.0" width="37.5" height="72.4" fill="none" stroke="#3ddb86" stroke-opacity="0.078" stroke-width="1.0"/>
<rect x="505.6" y="99.2" width="37.9" height="64.0" fill="none" stroke="#92cc17" stroke-opacity="0.125" stroke-width="1.0"/>
<rect x="514.7" y="114.6" width="19.5" height="33.2" fill="none" stroke="#48f90a" stroke-opacity="0.105" stroke-width="1.0"/>
<rect x="503.9" y="98.5" width="41.2" height="65.5" fill="none" stroke="#92cc17" stroke-opacity="0.089" stroke-width="1.0"/>
<rect x="507.5" y="98.5" width="34.0" height="65.5" fill="none" stroke="#48f90a" stroke-opacity="0.101" stroke-width="1.0"/>
<rect x="517.5" y="119.2" width="14.0" height="24.0" fill="none" stroke="#48f90a" stroke-opacity="0.129" stroke-width="1.0"/>
<rect x="513.6" y="112.4" width="21.9" height="37.6" fill="none" stroke="#cfd231" stroke-opacity="0.103" stroke-width="1.0"/>
<rect x="502.8" y="98.4" width="43.4" height="65.5" fill="none" stroke="#92cc17" stroke-opacity="0.069" stroke-width="1.0"/>
<rect x="509.1" y="104.2" width="30.8" height="53.9" fill="none" stroke="#92cc17" stroke-opacity="0.110" stroke-width="1.0"/>
<rect x="508.9" y="105.6" width="31.3" height="51.1" fill="none" stroke="#48f90a" stroke-opacity="0.106" stroke-width="1.0"/>
<rect x="516.3" y="118.7" width="16.4" height="25.1" fill="none" stroke="#3ddb86" stroke-opacity="0.125" stroke-width="1.0"/>
<rect x="513.8" y="119.2" width="21.3" height="24.0" fill="none" stroke="#3ddb86" stroke-opacity="0.125" stroke-width="1.0"/>
<rect x="508.0" y="99.0" width="33.0" height="64.3" fill="none" stroke="#48f90a" stroke-opacity="0.110" stroke-width="1.0"/>
<rect x="499.7" y="85.2" width="49.5" height="92.0" fill="none" stroke="#92cc17" stroke-opacity="0.066" stroke-width="1.0"/>
<rect x="515.9" y="116.1" width="17.1" height="30.1" fill="none" stroke="#92cc17" stroke-opacity="0.076" stroke-width="1.0"/>
<rect x="503.0" y="85.2" width="43.0" height="92.0" fill="none" stroke="#3ddb86" stroke-opacity="0.111" stroke-width="1.0"/>
<rect x="509.3" y="108.5" width="30.3" height="45.5" fill="none" stroke="#48f90a" stroke-opacity="0.082" stroke-width="1.0"/>
<rect x="512.8" y="110.0" width="23.3" height="42.4" fill="none" stroke="#92cc17" stroke-opacity="0.127" stroke-width="1.0"/>
<rect x="502.3" y="85.2" width="44.5" height="92.0" fill="none" stroke="#48f90a" stroke-opacity="0.084" stroke-width="1.0"/>
<rect x="500.6" y="85.2" width="47.8" height="92.0" fill="none" stroke="#cfd231" stroke-opacity="0.065" stroke-width="1.0"/>
<rect x="505.6" y="101.9" width="37.8" height="58.7" fill="none" stroke="#cfd231" stroke-opacity="0.099" stroke-width="1.0"/>
<rect x="506.1" y="93.8" width="36.9" height="74.8" fill="none" stroke="#48f90a" stroke-opacity="0.077" stroke-width="1.0"/>
<rect x="502.4" y="94.6" width="44.3" height="73.2" fill="none" stroke="#48f90a" stroke-opacity="0.100" stroke-width="1.0"/>
<rect x="513.2" y="109.5" width="22.6" height="43.3" fill="none" stroke="#92cc17" stroke-opacity="0.094" stroke-width="1.0"/>
<rect x="504.7" y="90.3" width="39.6" height="81.8" fill="none" stroke="#cfd231" stroke-opacity="0.090" stroke-width="1.0"/>
<rect x="501.5" y="90.4" width="45.9" height="81.5" fill="none" stroke="#92cc17" stroke-opacity="0.097" stroke-width="1.0"/>
<rect x="499.1" y="87.5" width="50.7" height="87.4" fill="none" stroke="#3ddb86" stroke-opacity="0.129" stroke-width="1.0"/>
<rect x="506.7" y="103.2" width="35.5" height="56.1" fill="none" stroke="#92cc17" stroke-opacity="0.107" stroke-width="1.0"/>
<rect x="510.4" y="104.9" width="28.3" height="52.6" fill="none" stroke="#48f90a" stroke-opacity="0.122" stroke-width="1.0"/>
<rect x="517.3" y="119.2" width="14.5" height="24.0" fill="none" stroke="#48f90a" stroke-opacity="0.069" stroke-width="1.0"/>
<rect x="500.9" y="85.2" width="47.2" height="92.0" fill="none" stroke="#92cc17" stroke-opacity="0.084" stroke-width="1.0"/>
<rect x="510.0" y="105.2" width="29.0" height="52.0" fill="none" stroke="#92cc17" stroke-opacity="0.077" stroke-width="1.0"/>
<rect x="511.7" y="110.2" width="25.6" height="42.0" fill="none" stroke="#92cc17" stroke-opacity="0.106" stroke-width="1.0"/>
<rect x="504.7" y="95.4" width="39.7" height="71.5" fill="none" stroke="#92cc17" stroke-opacity="0.110" stroke-width="1.0"/>
<rect x="507.9" y="107.9" width="33.3" height="46.6" fill="none" stroke="#92cc17" stroke-opacity="0.107" stroke-width="1.0"/>
<rect x="512.3" y="106.9" width="24.4" height="48.7" fill="none" stroke="#cfd231" stroke-opacity="0.084" stroke-width="1.0"/>
<rect x="501.0" y="98.5" width="47.1" height="65.5" fill="none" stroke="#92cc17" stroke-opacity="0.109" stroke-width="1.0"/>
<rect x="503.2" y="88.3" width="42.6" height="85.7" fill="none" stroke="#48f90a" stroke-opacity="0.119" stroke-width="1.0"/>
<rect x="507.7" y="108.8" width="33.7" height="44.7" fill="none" stroke="#92cc17" stroke-opacity="0.080" stroke-width="1.0"/>
<rect x="511.6" y="103.1" width="25.8" height="56.3" fill="none" stroke="#48f90a" stroke-opacity="0.066" stroke-width="1.0"/>
<rect x="517.0" y="118.6" width="14.9" height="25.2" fill="none" stroke="#92cc17" stroke-opacity="0.084" stroke-width="1.0"/>
<rect x="503.7" y="95.0" width="41.6" height="72.4" fill="none" stroke="#48f90a" stroke-opacity="0.098" stroke-width="1.0"/>
<rect x="512.2" y="112.2" width="24.6" height="38.1" fill="none" stroke="#92cc17" stroke-opacity="0.117" stroke-width="1.0"/>
<rect x="517.3" y="107.3" width="14.4" height="47.8" fill="none" stroke="#ff3838" stroke-opacity="0.094" stroke-width="1.0"/>
<rect x="513.2" y="113.6" width="22.5" height="35.3" fill="none" stroke="#ffb21d" stroke-opacity="0.081" stroke-width="1.0"/>
<rect x="517.8" y="112.5" width="13.3" height="37.3" fill="none" stroke="#ff3838" stroke-opacity="0.094" stroke-width="1.0"/>
<rect x="518.4" y="109.5" width="12.2" height="43.4" fill="none" stroke="#ffb21d" stroke-opacity="0.101" stroke-width="1.0"/>
<rect x="516.4" y="109.7" width="16.2" height="43.0" fill="none" stroke="#ff701f" stroke-opacity="0.084" stroke-width="1.0"/>
<rect x="512.7" y="119.1" width="23.7" height="24.1" fill="none" stroke="#ff701f" stroke-opacity="0.146" stroke-width="1.0"/>
<rect x="512.4" y="105.3" width="24.2" height="51.9" fill="none" stroke="#ff3838" stroke-opacity="0.120" stroke-width="1.0"/>
<rect x="513.7" y="110.2" width="21.7" height="42.0" fill="none" stroke="#ff3838" stroke-opacity="0.145" stroke-width="1.0"/>
<rect x="520.5" y="122.9" width="8.0" height="16.6" fill="none" stroke="#ff3838" stroke-opacity="0.300" stroke-width="1.0"/>
<rect x="519.7" y="121.7" width="9.6" height="19.0" fill="none" stroke="#ff701f" stroke-opacity="0.200" stroke-width="1.0"/>
<rect x="519.0" y="120.7" width="11.0" height="21.0" fill="none" stroke="#92cc17" stroke-opacity="0.200" stroke-width="1.0"/>
<g shape-rendering="crispEdges">
<rect x="65" y="462" width="5" height="5" fill="#acc9ee"/>
<rect x="65" y="554" width="5" height="5" fill="#acc9ee"/>
<rect x="70" y="440" width="5" height="4" fill="#acc9ee"/>
<rect x="75" y="440" width="5" height="4" fill="#acc9ee"/>
<rect x="75" y="513" width="5" height="5" fill="#acc9ee"/>
<rect x="80" y="394" width="4" height="4" fill="#acc9ee"/>
<rect x="80" y="513" width="4" height="5" fill="#acc9ee"/>
<rect x="84" y="416" width="5" height="5" fill="#acc9ee"/>
<rect x="84" y="472" width="5" height="4" fill="#acc9ee"/>
<rect x="89" y="522" width="5" height="5" fill="#acc9ee"/>
<rect x="94" y="380" width="5" height="4" fill="#acc9ee"/>
<rect x="94" y="407" width="5" height="5" fill="#acc9ee"/>
<rect x="94" y="499" width="5" height="5" fill="#acc9ee"/>
<rect x="99" y="375" width="5" height="5" fill="#acc9ee"/>
<rect x="99" y="481" width="5" height="5" fill="#acc9ee"/>
<rect x="104" y="435" width="5" height="5" fill="#acc9ee"/>
<rect x="104" y="449" width="5" height="4" fill="#acc9ee"/>
<rect x="104" y="476" width="5" height="5" fill="#acc9ee"/>
<rect x="104" y="499" width="5" height="5" fill="#acc9ee"/>
<rect x="104" y="504" width="5" height="4" fill="#acc9ee"/>
<rect x="109" y="416" width="5" height="5" fill="#acc9ee"/>
<rect x="109" y="421" width="5" height="5" fill="#acc9ee"/>
<rect x="109" y="449" width="5" height="4" fill="#acc9ee"/>
<rect x="109" y="462" width="5" height="5" fill="#acc9ee"/>
<rect x="114" y="412" width="4" height="4" fill="#acc9ee"/>
<rect x="114" y="430" width="4" height="5" fill="#acc9ee"/>
<rect x="114" y="435" width="4" height="5" fill="#acc9ee"/>
<rect x="114" y="481" width="4" height="5" fill="#acc9ee"/>
<rect x="114" y="495" width="4" height="4" fill="#acc9ee"/>
<rect x="118" y="421" width="5" height="5" fill="#acc9ee"/>
<rect x="118" y="430" width="5" height="5" fill="#acc9ee"/>
<rect x="118" y="444" width="5" height="5" fill="#acc9ee"/>
<rect x="118" y="453" width="5" height="5" fill="#acc9ee"/>
<rect x="118" y="462" width="5" height="5" fill="#acc9ee"/>
<rect x="123" y="412" width="5" height="4" fill="#acc9ee"/>
<rect x="123" y="426" width="5" height="4" fill="#acc9ee"/>
<rect x="123" y="453" width="5" height="5" fill="#acc9ee"/>
<rect x="123" y="481" width="5" height="5" fill="#acc9ee"/>
<rect x="128" y="426" width="5" height="4" fill="#acc9ee"/>
<rect x="128" y="430" width="5" height="5" fill="#acc9ee"/>
<rect x="128" y="435" width="5" height="5" fill="#acc9ee"/>
<rect x="128" y="444" width="5" height="5" fill="#acc9ee"/>
<rect x="128" y="458" width="5" height="4" fill="#acc9ee"/>
<rect x="128" y="462" width="5" height="5" fill="#acc9ee"/>
<rect x="128" y="476" width="5" height="5" fill="#acc9ee"/>
<rect x="133" y="421" width="5" height="5" fill="#acc9ee"/>
<rect x="133" y="430" width="5" height="5" fill="#acc9ee"/>
<rect x="133" y="449" width="5" height="4" fill="#acc9ee"/>
<rect x="133" y="453" width="5" height="5" fill="#acc9ee"/>
<rect x="133" y="462" width="5" height="5" fill="#acc9ee"/>
<rect x="133" y="467" width="5" height="5" fill="#acc9ee"/>
<rect x="133" y="472" width="5" height="4" fill="#acc9ee"/>
<rect x="133" y="476" width="5" height="5" fill="#acc9ee"/>
<rect x="133" y="495" width="5" height="4" fill="#acc9ee"/>
<rect x="133" y="508" width="5" height="5" fill="#acc9ee"/>
<rect x="138" y="430" width="5" height="5" fill="#acc9ee"/>
<rect x="138" y="440" width="5" height="4" fill="#acc9ee"/>
<rect x="138" y="444" width="5" height="5" fill="#acc9ee"/>
<rect x="138" y="453" width="5" height="5" fill="#acc9ee"/>
<rect x="138" y="462" width="5" height="5" fill="#acc9ee"/>
<rect x="138" y="476" width="5" height="5" fill="#acc9ee"/>
<rect x="138" y="486" width="5" height="4" fill="#acc9ee"/>
<rect x="138" y="541" width="5" height="4" fill="#acc9ee"/>
<rect x="143" y="444" width="5" height="5" fill="#acc9ee"/>
<rect x="143" y="458" width="5" height="4" fill="#acc9ee"/>
<rect x="143" y="472" width="5" height="4" fill="#acc9ee"/>
<rect x="143" y="481" width="5" height="5" fill="#acc9ee"/>
<rect x="143" y="486" width="5" height="4" fill="#acc9ee"/>
<rect x="143" y="499" width="5" height="5" fill="#acc9ee"/>
<rect x="143" y="532" width="5" height="4" fill="#acc9ee"/>
<rect x="143" y="573" width="5" height="5" fill="#acc9ee"/>
<rect x="148" y="412" width="4" height="4" fill="#acc9ee"/>
<rect x="148" y="426" width="4" height="4" fill="#acc9ee"/>
<rect x="148" y="430" width="4" height="5" fill="#acc9ee"/>
<rect x="148" y="449" width="4" height="4" fill="#acc9ee"/>
<rect x="148" y="453" width="4" height="5" fill="#acc9ee"/>
<rect x="148" y="458" width="4" height="4" fill="#acc9ee"/>
<rect x="148" y="462" width="4" height="5" fill="#acc9ee"/>
<rect x="148" y="467" width="4" height="5" fill="#acc9ee"/>
<rect x="148" y="472" width="4" height="4" fill="#acc9ee"/>
<rect x="148" y="476" width="4" height="5" fill="#92bef1"/>
<rect x="148" y="481" width="4" height="5" fill="#92bef1"/>
<rect x="148" y="486" width="4" height="4" fill="#92bef1"/>
<rect x="148" y="490" width="4" height="5" fill="#acc9ee"/>
<rect x="148" y="495" width="4" height="4" fill="#5eaef4"/>
<rect x="148" y="499" width="4" height="5" fill="#acc9ee"/>
<rect x="148" y="518" width="4" height="4" fill="#acc9ee"/>
<rect x="148" y="522" width="4" height="5" fill="#acc9ee"/>
<rect x="148" y="527" width="4" height="5" fill="#acc9ee"/>
<rect x="152" y="412" width="5" height="4" fill="#acc9ee"/>
<rect x="152" y="430" width="5" height="5" fill="#acc9ee"/>
<rect x="152" y="440" width="5" height="4" fill="#acc9ee"/>
<rect x="152" y="444" width="5" height="5" fill="#acc9ee"/>
<rect x="152" y="449" width="5" height="4" fill="#acc9ee"/>
<rect x="152" y="453" width="5" height="5" fill="#acc9ee"/>
<rect x="152" y="458" width="5" height="4" fill="#acc9ee"/>
<rect x="152" y="462" width="5" height="5" fill="#92bef1"/>
<rect x="152" y="467" width="5" height="5" fill="#acc9ee"/>
<rect x="152" y="472" width="5" height="4" fill="#92bef1"/>
<rect x="152" y="476" width="5" height="5" fill="#92bef1"/>
<rect x="152" y="481" width="5" height="5" fill="#92bef1"/>
<rect x="152" y="490" width="5" height="5" fill="#92bef1"/>
<rect x="152" y="495" width="5" height="4" fill="#acc9ee"/>
<rect x="152" y="499" width="5" height="5" fill="#acc9ee"/>
<rect x="152" y="504" width="5" height="4" fill="#acc9ee"/>
<rect x="152" y="508" width="5" height="5" fill="#acc9ee"/>
<rect x="152" y="518" width="5" height="4" fill="#acc9ee"/>
<rect x="152" y="536" width="5" height="5" fill="#acc9ee"/>
<rect x="152" y="545" width="5" height="5" fill="#acc9ee"/>
<rect x="152" y="582" width="5" height="5" fill="#acc9ee"/>
<rect x="157" y="407" width="5" height="5" fill="#acc9ee"/>
<rect x="157" y="416" width="5" height="5" fill="#acc9ee"/>
<rect x="157" y="421" width="5" height="5" fill="#92bef1"/>
<rect x="157" y="444" width="5" height="5" fill="#acc9ee"/>
<rect x="157" y="449" width="5" height="4" fill="#acc9ee"/>
<rect x="157" y="453" width="5" height="5" fill="#92bef1"/>
<rect x="157" y="462" width="5" height="5" fill="#2b96e2"/>
<rect x="157" y="467" width="5" height="5" fill="#acc9ee"/>
<rect x="157" y="472" width="5" height="4" fill="#acc9ee"/>
<rect x="157" y="476" width="5" height="5" fill="#acc9ee"/>
<rect x="157" y="481" width="5" height="5" fill="#92bef1"/>
<rect x="157" y="486" width="5" height="4" fill="#acc9ee"/>
<rect x="157" y="490" width="5" height="5" fill="#92bef1"/>
<rect x="157" y="504" width="5" height="4" fill="#acc9ee"/>
<rect x="157" y="508" width="5" height="5" fill="#acc9ee"/>
<rect x="157" y="513" width="5" height="5" fill="#acc9ee"/>
<rect x="162" y="430" width="5" height="5" fill="#acc9ee"/>
<rect x="162" y="435" width="5" height="5" fill="#acc9ee"/>
<rect x="162" y="440" width="5" height="4" fill="#acc9ee"/>
<rect x="162" y="444" width="5" height="5" fill="#acc9ee"/>
<rect x="162" y="449" width="5" height="4" fill="#acc9ee"/>
<rect x="162" y="453" width="5" height="5" fill="#92bef1"/>
<rect x="162" y="458" width="5" height="4" fill="#92bef1"/>
<rect x="162" y="462" width="5" height="5" fill="#2b96e2"/>
<rect x="162" y="467" width="5" height="5" fill="#5eaef4"/>
<rect x="162" y="472" width="5" height="4" fill="#2b96e2"/>
<rect x="162" y="476" width="5" height="5" fill="#acc9ee"/>
<rect x="162" y="481" width="5" height="5" fill="#92bef1"/>
<rect x="162" y="486" width="5" height="4" fill="#92bef1"/>
<rect x="162" y="490" width="5" height="5" fill="#5eaef4"/>
<rect x="162" y="495" width="5" height="4" fill="#92bef1"/>
<rect x="162" y="499" width="5" height="5" fill="#5eaef4"/>
<rect x="162" y="508" width="5" height="5" fill="#acc9ee"/>
<rect x="162" y="513" width="5" height="5" fill="#acc9ee"/>
<rect x="162" y="518" width="5" height="4" fill="#acc9ee"/>
<rect x="162" y="536" width="5" height="5" fill="#acc9ee"/>
<rect x="167" y="407" width="5" height="5" fill="#acc9ee"/>
<rect x="167" y="435" width="5" height="5" fill="#acc9ee"/>
<rect x="167" y="440" width="5" height="4" fill="#acc9ee"/>
<rect x="167" y="444" width="5" height="5" fill="#92bef1"/>
<rect x="167" y="449" width="5" height="4" fill="#acc9ee"/>
<rect x="167" y="453" width="5" height="5" fill="#92bef1"/>
<rect x="167" y="458" width="5" height="4" fill="#2b96e2"/>
<rect x="167" y="462" width="5" height="5" fill="#92bef1"/>
<rect x="167" y="467" width="5" height="5" fill="#2b96e2"/>
<rect x="167" y="472" width="5" height="4" fill="#2b96e2"/>
<rect x="167" y="476" width="5" height="5" fill="#2b96e2"/>
<rect x="167" y="481" width="5" height="5" fill="#92bef1"/>
<rect x="167" y="486" width="5" height="4" fill="#acc9ee"/>
<rect x="167" y="490" width="5" height="5" fill="#5eaef4"/>
<rect x="167" y="495" width="5" height="4" fill="#92bef1"/>
<rect x="167" y="499" width="5" height="5" fill="#acc9ee"/>
<rect x="167" y="504" width="5" height="4" fill="#acc9ee"/>
<rect x="167" y="508" width="5" height="5" fill="#acc9ee"/>
<rect x="172" y="398" width="5" height="5" fill="#acc9ee"/>
<rect x="172" y="430" width="5" height="5" fill="#acc9ee"/>
<rect x="172" y="440" width="5" height="4" fill="#acc9ee"/>
<rect x="172" y="444" width="5" height="5" fill="#92bef1"/>
<rect x="172" y="449" width="5" height="4" fill="#92bef1"/>
<rect x="172" y="453" width="5" height="5" fill="#92bef1"/>
<rect x="172" y="458" width="5" height="4" fill="#92bef1"/>
<rect x="172" y="462" width="5" height="5" fill="#92bef1"/>
<rect x="172" y="467" width="5" height="5" fill="#92bef1"/>
<rect x="172" y="472" width="5" height="4" fill="#2b96e2"/>
<rect x="172" y="476" width="5" height="5" fill="#2b96e2"/>
<rect x="172" y="481" width="5" height="5" fill="#2b96e2"/>
<rect x="172" y="486" width="5" height="4" fill="#92bef1"/>
<rect x="172" y="490" width="5" height="5" fill="#5eaef4"/>
<rect x="172" y="495" width="5" height="4" fill="#92bef1"/>
<rect x="172" y="499" width="5" height="5" fill="#acc9ee"/>
<rect x="172" y="508" width="5" height="5" fill="#acc9ee"/>
<rect x="172" y="513" width="5" height="5" fill="#acc9ee"/>
<rect x="172" y="518" width="5" height="4" fill="#acc9ee"/>
<rect x="172" y="532" width="5" height="4" fill="#acc9ee"/>
<rect x="177" y="421" width="4" height="5" fill="#acc9ee"/>
<rect x="177" y="426" width="4" height="4" fill="#acc9ee"/>
<rect x="177" y="430" width="4" height="5" fill="#acc9ee"/>
<rect x="177" y="435" width="4" height="5" fill="#acc9ee"/>
<rect x="177" y="440" width="4" height="4" fill="#acc9ee"/>
<rect x="177" y="444" width="4" height="5" fill="#92bef1"/>
<rect x="177" y="449" width="4" height="4" fill="#92bef1"/>
<rect x="177" y="453" width="4" height="5" fill="#2b96e2"/>
<rect x="177" y="458" width="4" height="4" fill="#3d546e"/>
<rect x="177" y="462" width="4" height="5" fill="#3577ae"/>
<rect x="177" y="467" width="4" height="5" fill="#2b96e2"/>
<rect x="177" y="472" width="4" height="4" fill="#2b96e2"/>
<rect x="177" y="476" width="4" height="5" fill="#2b96e2"/>
<rect x="177" y="481" width="4" height="5" fill="#2b96e2"/>
<rect x="177" y="486" width="4" height="4" fill="#92bef1"/>
<rect x="177" y="490" width="4" height="5" fill="#5eaef4"/>
<rect x="177" y="495" width="4" height="4" fill="#92bef1"/>
<rect x="177" y="499" width="4" height="5" fill="#acc9ee"/>
<rect x="177" y="504" width="4" height="4" fill="#acc9ee"/>
<rect x="177" y="508" width="4" height="5" fill="#acc9ee"/>
<rect x="177" y="513" width="4" height="5" fill="#acc9ee"/>
<rect x="181" y="421" width="5" height="5" fill="#acc9ee"/>
<rect x="181" y="426" width="5" height="4" fill="#acc9ee"/>
<rect x="181" y="430" width="5" height="5" fill="#acc9ee"/>
<rect x="181" y="435" width="5" height="5" fill="#acc9ee"/>
<rect x="181" y="440" width="5" height="4" fill="#acc9ee"/>
<rect x="181" y="444" width="5" height="5" fill="#acc9ee"/>
<rect x="181" y="449" width="5" height="4" fill="#92bef1"/>
<rect x="181" y="453" width="5" height="5" fill="#2b96e2"/>
<rect x="181" y="458" width="5" height="4" fill="#2b96e2"/>
<rect x="181" y="462" width="5" height="5" fill="#3577ae"/>
<rect x="181" y="467" width="5" height="5" fill="#3d546e"/>
<rect x="181" y="472" width="5" height="4" fill="#3d546e"/>
<rect x="181" y="476" width="5" height="5" fill="#3577ae"/>
<rect x="181" y="481" width="5" height="5" fill="#3d546e"/>
<rect x="181" y="486" width="5" height="4" fill="#3577ae"/>
<rect x="181" y="490" width="5" height="5" fill="#2b96e2"/>
<rect x="181" y="495" width="5" height="4" fill="#acc9ee"/>
<rect x="181" y="499" width="5" height="5" fill="#acc9ee"/>
<rect x="181" y="504" width="5" height="4" fill="#92bef1"/>
<rect x="181" y="508" width="5" height="5" fill="#acc9ee"/>
<rect x="181" y="513" width="5" height="5" fill="#acc9ee"/>
<rect x="181" y="564" width="5" height="4" fill="#acc9ee"/>
<rect x="181" y="582" width="5" height="5" fill="#acc9ee"/>
<rect x="186" y="389" width="5" height="5" fill="#acc9ee"/>
<rect x="186" y="403" width="5" height="4" fill="#acc9ee"/>
<rect x="186" y="407" width="5" height="5" fill="#acc9ee"/>
<rect x="186" y="412" width="5" height="4" fill="#acc9ee"/>
<rect x="186" y="430" width="5" height="5" fill="#acc9ee"/>
<rect x="186" y="435" width="5" height="5" fill="#acc9ee"/>
<rect x="186" y="440" width="5" height="4" fill="#acc9ee"/>
<rect x="186" y="444" width="5" height="5" fill="#92bef1"/>
<rect x="186" y="449" width="5" height="4" fill="#acc9ee"/>
<rect x="186" y="453" width="5" height="5" fill="#92bef1"/>
<rect x="186" y="458" width="5" height="4" fill="#2b96e2"/>
<rect x="186" y="462" width="5" height="5" fill="#3577ae"/>
<rect x="186" y="467" width="5" height="5" fill="#3d546e"/>
<rect x="186" y="472" width="5" height="4" fill="#2b96e2"/>
<rect x="186" y="476" width="5" height="5" fill="#3577ae"/>
<rect x="186" y="481" width="5" height="5" fill="#2b96e2"/>
<rect x="186" y="486" width="5" height="4" fill="#3d546e"/>
<rect x="186" y="490" width="5" height="5" fill="#5eaef4"/>
<rect x="186" y="495" width="5" height="4" fill="#3577ae"/>
<rect x="186" y="499" width="5" height="5" fill="#92bef1"/>
<rect x="186" y="504" width="5" height="4" fill="#92bef1"/>
<rect x="186" y="508" width="5" height="5" fill="#acc9ee"/>
<rect x="186" y="513" width="5" height="5" fill="#acc9ee"/>
<rect x="186" y="522" width="5" height="5" fill="#acc9ee"/>
<rect x="186" y="527" width="5" height="5" fill="#acc9ee"/>
<rect x="186" y="564" width="5" height="4" fill="#acc9ee"/>
<rect x="191" y="394" width="5" height="4" fill="#acc9ee"/>
<rect x="191" y="426" width="5" height="4" fill="#5eaef4"/>
<rect x="191" y="435" width="5" height="5" fill="#acc9ee"/>
<rect x="191" y="440" width="5" height="4" fill="#92bef1"/>
<rect x="191" y="444" width="5" height="5" fill="#92bef1"/>
<rect x="191" y="449" width="5" height="4" fill="#92bef1"/>
<rect x="191" y="453" width="5" height="5" fill="#acc9ee"/>
<rect x="191" y="458" width="5" height="4" fill="#2b96e2"/>
<rect x="191" y="462" width="5" height="5" fill="#92bef1"/>
<rect x="191" y="467" width="5" height="5" fill="#3577ae"/>
<rect x="191" y="472" width="5" height="4" fill="#3577ae"/>
<rect x="191" y="476" width="5" height="5" fill="#3577ae"/>
<rect x="191" y="481" width="5" height="5" fill="#3577ae"/>
<rect x="191" y="486" width="5" height="4" fill="#2b96e2"/>
<rect x="191" y="490" width="5" height="5" fill="#2b96e2"/>
<rect x="191" y="495" width="5" height="4" fill="#2b96e2"/>
<rect x="191" y="499" width="5" height="5" fill="#acc9ee"/>
<rect x="191" y="504" width="5" height="4" fill="#acc9ee"/>
<rect x="191" y="508" width="5" height="5" fill="#acc9ee"/>
<rect x="191" y="518" width="5" height="4" fill="#acc9ee"/>
<rect x="191" y="522" width="5" height="5" fill="#acc9ee"/>
<rect x="191" y="527" width="5" height="5" fill="#acc9ee"/>
<rect x="196" y="398" width="5" height="5" fill="#acc9ee"/>
<rect x="196" y="407" width="5" height="5" fill="#acc9ee"/>
<rect x="196" y="430" width="5" height="5" fill="#acc9ee"/>
<rect x="196" y="435" width="5" height="5" fill="#acc9ee"/>
<rect x="196" y="440" width="5" height="4" fill="#acc9ee"/>
<rect x="196" y="449" width="5" height="4" fill="#acc9ee"/>
<rect x="196" y="453" width="5" height="5" fill="#acc9ee"/>
<rect x="196" y="458" width="5" height="4" fill="#5eaef4"/>
<rect x="196" y="462" width="5" height="5" fill="#2b96e2"/>
<rect x="196" y="467" width="5" height="5" fill="#2b96e2"/>
<rect x="196" y="472" width="5" height="4" fill="#3577ae"/>
<rect x="196" y="476" width="5" height="5" fill="#5eaef4"/>
<rect x="196" y="481" width="5" height="5" fill="#acc9ee"/>
<rect x="196" y="486" width="5" height="4" fill="#92bef1"/>
<rect x="196" y="490" width="5" height="5" fill="#92bef1"/>
<rect x="196" y="495" width="5" height="4" fill="#92bef1"/>
<rect x="196" y="499" width="5" height="5" fill="#acc9ee"/>
<rect x="196" y="518" width="5" height="4" fill="#acc9ee"/>
<rect x="196" y="527" width="5" height="5" fill="#acc9ee"/>
<rect x="196" y="532" width="5" height="4" fill="#acc9ee"/>
<rect x="201" y="380" width="5" height="4" fill="#acc9ee"/>
<rect x="201" y="384" width="5" height="5" fill="#acc9ee"/>
<rect x="201" y="398" width="5" height="5" fill="#acc9ee"/>
<rect x="201" y="435" width="5" height="5" fill="#acc9ee"/>
<rect x="201" y="440" width="5" height="4" fill="#acc9ee"/>
<rect x="201" y="444" width="5" height="5" fill="#acc9ee"/>
<rect x="201" y="449" width="5" height="4" fill="#acc9ee"/>
<rect x="201" y="453" width="5" height="5" fill="#92bef1"/>
<rect x="201" y="458" width="5" height="4" fill="#92bef1"/>
<rect x="201" y="462" width="5" height="5" fill="#acc9ee"/>
<rect x="201" y="467" width="5" height="5" fill="#acc9ee"/>
<rect x="201" y="472" width="5" height="4" fill="#2b96e2"/>
<rect x="201" y="476" width="5" height="5" fill="#92bef1"/>
<rect x="201" y="481" width="5" height="5" fill="#5eaef4"/>
<rect x="201" y="486" width="5" height="4" fill="#acc9ee"/>
<rect x="201" y="490" width="5" height="5" fill="#92bef1"/>
<rect x="201" y="495" width="5" height="4" fill="#92bef1"/>
<rect x="201" y="499" width="5" height="5" fill="#2b96e2"/>
<rect x="201" y="504" width="5" height="4" fill="#acc9ee"/>
<rect x="201" y="508" width="5" height="5" fill="#5eaef4"/>
<rect x="201" y="513" width="5" height="5" fill="#acc9ee"/>
<rect x="201" y="518" width="5" height="4" fill="#acc9ee"/>
<rect x="201" y="522" width="5" height="5" fill="#acc9ee"/>
<rect x="201" y="527" width="5" height="5" fill="#acc9ee"/>
<rect x="201" y="532" width="5" height="4" fill="#acc9ee"/>
<rect x="201" y="536" width="5" height="5" fill="#acc9ee"/>
<rect x="206" y="394" width="5" height="4" fill="#acc9ee"/>
<rect x="206" y="407" width="5" height="5" fill="#acc9ee"/>
<rect x="206" y="412" width="5" height="4" fill="#acc9ee"/>
<rect x="206" y="435" width="5" height="5" fill="#acc9ee"/>
<rect x="206" y="440" width="5" height="4" fill="#acc9ee"/>
<rect x="206" y="444" width="5" height="5" fill="#acc9ee"/>
<rect x="206" y="449" width="5" height="4" fill="#92bef1"/>
<rect x="206" y="453" width="5" height="5" fill="#acc9ee"/>
<rect x="206" y="458" width="5" height="4" fill="#acc9ee"/>
<rect x="206" y="462" width="5" height="5" fill="#92bef1"/>
<rect x="206" y="467" width="5" height="5" fill="#acc9ee"/>
<rect x="206" y="472" width="5" height="4" fill="#acc9ee"/>
<rect x="206" y="476" width="5" height="5" fill="#acc9ee"/>
<rect x="206" y="481" width="5" height="5" fill="#92bef1"/>
<rect x="206" y="486" width="5" height="4" fill="#acc9ee"/>
<rect x="206" y="490" width="5" height="5" fill="#92bef1"/>
<rect x="206" y="495" width="5" height="4" fill="#92bef1"/>
<rect x="206" y="499" width="5" height="5" fill="#acc9ee"/>
<rect x="206" y="504" width="5" height="4" fill="#acc9ee"/>
<rect x="206" y="508" width="5" height="5" fill="#acc9ee"/>
<rect x="206" y="518" width="5" height="4" fill="#acc9ee"/>
<rect x="206" y="522" width="5" height="5" fill="#acc9ee"/>
<rect x="206" y="527" width="5" height="5" fill="#acc9ee"/>
<rect x="206" y="532" width="5" height="4" fill="#acc9ee"/>
<rect x="211" y="357" width="4" height="4" fill="#acc9ee"/>
<rect x="211" y="361" width="4" height="5" fill="#acc9ee"/>
<rect x="211" y="416" width="4" height="5" fill="#acc9ee"/>
<rect x="211" y="440" width="4" height="4" fill="#acc9ee"/>
<rect x="211" y="449" width="4" height="4" fill="#acc9ee"/>
<rect x="211" y="458" width="4" height="4" fill="#92bef1"/>
<rect x="211" y="462" width="4" height="5" fill="#acc9ee"/>
<rect x="211" y="467" width="4" height="5" fill="#acc9ee"/>
<rect x="211" y="472" width="4" height="4" fill="#acc9ee"/>
<rect x="211" y="476" width="4" height="5" fill="#acc9ee"/>
<rect x="211" y="481" width="4" height="5" fill="#acc9ee"/>
<rect x="211" y="486" width="4" height="4" fill="#92bef1"/>
<rect x="211" y="490" width="4" height="5" fill="#5eaef4"/>
<rect x="211" y="495" width="4" height="4" fill="#acc9ee"/>
<rect x="211" y="499" width="4" height="5" fill="#acc9ee"/>
<rect x="211" y="504" width="4" height="4" fill="#92bef1"/>
<rect x="211" y="508" width="4" height="5" fill="#acc9ee"/>
<rect x="211" y="518" width="4" height="4" fill="#acc9ee"/>
<rect x="211" y="522" width="4" height="5" fill="#acc9ee"/>
<rect x="211" y="527" width="4" height="5" fill="#acc9ee"/>
<rect x="211" y="532" width="4" height="4" fill="#acc9ee"/>
<rect x="211" y="550" width="4" height="4" fill="#acc9ee"/>
<rect x="215" y="412" width="5" height="4" fill="#acc9ee"/>
<rect x="215" y="416" width="5" height="5" fill="#acc9ee"/>
<rect x="215" y="426" width="5" height="4" fill="#acc9ee"/>
<rect x="215" y="440" width="5" height="4" fill="#acc9ee"/>
<rect x="215" y="449" width="5" height="4" fill="#acc9ee"/>
<rect x="215" y="453" width="5" height="5" fill="#acc9ee"/>
<rect x="215" y="458" width="5" height="4" fill="#92bef1"/>
<rect x="215" y="462" width="5" height="5" fill="#acc9ee"/>
<rect x="215" y="467" width="5" height="5" fill="#92bef1"/>
<rect x="215" y="472" width="5" height="4" fill="#acc9ee"/>
<rect x="215" y="476" width="5" height="5" fill="#92bef1"/>
<rect x="215" y="481" width="5" height="5" fill="#92bef1"/>
<rect x="215" y="486" width="5" height="4" fill="#acc9ee"/>
<rect x="215" y="490" width="5" height="5" fill="#acc9ee"/>
<rect x="215" y="495" width="5" height="4" fill="#acc9ee"/>
<rect x="215" y="499" width="5" height="5" fill="#acc9ee"/>
<rect x="215" y="504" width="5" height="4" fill="#acc9ee"/>
<rect x="215" y="508" width="5" height="5" fill="#acc9ee"/>
<rect x="215" y="518" width="5" height="4" fill="#acc9ee"/>
<rect x="215" y="541" width="5" height="4" fill="#acc9ee"/>
<rect x="220" y="366" width="5" height="4" fill="#acc9ee"/>
<rect x="220" y="375" width="5" height="5" fill="#acc9ee"/>
<rect x="220" y="440" width="5" height="4" fill="#acc9ee"/>
<rect x="220" y="444" width="5" height="5" fill="#acc9ee"/>
<rect x="220" y="449" width="5" height="4" fill="#acc9ee"/>
<rect x="220" y="458" width="5" height="4" fill="#5eaef4"/>
<rect x="220" y="462" width="5" height="5" fill="#acc9ee"/>
<rect x="220" y="467" width="5" height="5" fill="#acc9ee"/>
<rect x="220" y="472" width="5" height="4" fill="#5eaef4"/>
<rect x="220" y="476" width="5" height="5" fill="#acc9ee"/>
<rect x="220" y="481" width="5" height="5" fill="#acc9ee"/>
<rect x="220" y="486" width="5" height="4" fill="#acc9ee"/>
<rect x="220" y="490" width="5" height="5" fill="#acc9ee"/>
<rect x="220" y="495" width="5" height="4" fill="#acc9ee"/>
<rect x="220" y="499" width="5" height="5" fill="#acc9ee"/>
<rect x="220" y="504" width="5" height="4" fill="#acc9ee"/>
<rect x="220" y="513" width="5" height="5" fill="#acc9ee"/>
<rect x="225" y="412" width="5" height="4" fill="#acc9ee"/>
<rect x="225" y="453" width="5" height="5" fill="#acc9ee"/>
<rect x="225" y="467" width="5" height="5" fill="#acc9ee"/>
<rect x="225" y="472" width="5" height="4" fill="#acc9ee"/>
<rect x="225" y="476" width="5" height="5" fill="#5eaef4"/>
<rect x="225" y="481" width="5" height="5" fill="#acc9ee"/>
<rect x="225" y="486" width="5" height="4" fill="#acc9ee"/>
<rect x="225" y="490" width="5" height="5" fill="#acc9ee"/>
<rect x="225" y="504" width="5" height="4" fill="#acc9ee"/>
<rect x="225" y="508" width="5" height="5" fill="#acc9ee"/>
<rect x="230" y="407" width="5" height="5" fill="#acc9ee"/>
<rect x="230" y="444" width="5" height="5" fill="#acc9ee"/>
<rect x="230" y="449" width="5" height="4" fill="#acc9ee"/>
<rect x="230" y="476" width="5" height="5" fill="#92bef1"/>
<rect x="230" y="481" width="5" height="5" fill="#acc9ee"/>
<rect x="230" y="486" width="5" height="4" fill="#5eaef4"/>
<rect x="230" y="495" width="5" height="4" fill="#acc9ee"/>
<rect x="230" y="499" width="5" height="5" fill="#acc9ee"/>
<rect x="230" y="508" width="5" height="5" fill="#acc9ee"/>
<rect x="230" y="518" width="5" height="4" fill="#5eaef4"/>
<rect x="230" y="541" width="5" height="4" fill="#acc9ee"/>
<rect x="235" y="440" width="5" height="4" fill="#acc9ee"/>
<rect x="235" y="449" width="5" height="4" fill="#acc9ee"/>
<rect x="235" y="453" width="5" height="5" fill="#acc9ee"/>
<rect x="235" y="467" width="5" height="5" fill="#acc9ee"/>
<rect x="235" y="486" width="5" height="4" fill="#acc9ee"/>
<rect x="235" y="495" width="5" height="4" fill="#acc9ee"/>
<rect x="235" y="508" width="5" height="5" fill="#acc9ee"/>
<rect x="235" y="532" width="5" height="4" fill="#acc9ee"/>
<rect x="240" y="407" width="4" height="5" fill="#acc9ee"/>
<rect x="240" y="453" width="4" height="5" fill="#acc9ee"/>
<rect x="240" y="458" width="4" height="4" fill="#acc9ee"/>
<rect x="240" y="472" width="4" height="4" fill="#acc9ee"/>
<rect x="240" y="481" width="4" height="5" fill="#acc9ee"/>
<rect x="240" y="486" width="4" height="4" fill="#acc9ee"/>
<rect x="240" y="490" width="4" height="5" fill="#acc9ee"/>
<rect x="240" y="508" width="4" height="5" fill="#acc9ee"/>
<rect x="244" y="421" width="5" height="5" fill="#acc9ee"/>
<rect x="244" y="430" width="5" height="5" fill="#acc9ee"/>
<rect x="244" y="444" width="5" height="5" fill="#acc9ee"/>
<rect x="244" y="467" width="5" height="5" fill="#acc9ee"/>
<rect x="244" y="476" width="5" height="5" fill="#acc9ee"/>
<rect x="244" y="504" width="5" height="4" fill="#acc9ee"/>
<rect x="249" y="440" width="5" height="4" fill="#acc9ee"/>
<rect x="249" y="458" width="5" height="4" fill="#acc9ee"/>
<rect x="249" y="508" width="5" height="5" fill="#acc9ee"/>
<rect x="254" y="389" width="5" height="5" fill="#acc9ee"/>
<rect x="254" y="458" width="5" height="4" fill="#acc9ee"/>
<rect x="254" y="462" width="5" height="5" fill="#acc9ee"/>
<rect x="254" y="495" width="5" height="4" fill="#acc9ee"/>
<rect x="259" y="453" width="5" height="5" fill="#acc9ee"/>
<rect x="259" y="467" width="5" height="5" fill="#acc9ee"/>
<rect x="264" y="444" width="5" height="5" fill="#acc9ee"/>
<rect x="264" y="472" width="5" height="4" fill="#acc9ee"/>
<rect x="264" y="476" width="5" height="5" fill="#acc9ee"/>
<rect x="274" y="564" width="4" height="4" fill="#acc9ee"/>
<rect x="283" y="458" width="5" height="4" fill="#acc9ee"/>
<rect x="293" y="490" width="5" height="5" fill="#acc9ee"/>
<rect x="298" y="481" width="5" height="5" fill="#acc9ee"/>
<rect x="303" y="435" width="5" height="5" fill="#acc9ee"/>
<rect x="303" y="444" width="5" height="5" fill="#acc9ee"/>
<rect x="303" y="453" width="5" height="5" fill="#acc9ee"/>
</g>
<g shape-rendering="crispEdges">
<rect x="431" y="507" width="5" height="4" fill="#5eaef4"/>
<rect x="431" y="511" width="5" height="4" fill="#5eaef4"/>
<rect x="431" y="515" width="5" height="5" fill="#5eaef4"/>
<rect x="431" y="520" width="5" height="4" fill="#5eaef4"/>
<rect x="431" y="524" width="5" height="4" fill="#5eaef4"/>
<rect x="431" y="528" width="5" height="4" fill="#5eaef4"/>
<rect x="431" y="532" width="5" height="5" fill="#5eaef4"/>
<rect x="431" y="537" width="5" height="4" fill="#5eaef4"/>
<rect x="431" y="541" width="5" height="4" fill="#5eaef4"/>
<rect x="431" y="545" width="5" height="4" fill="#5eaef4"/>
<rect x="431" y="549" width="5" height="5" fill="#5eaef4"/>
<rect x="431" y="554" width="5" height="4" fill="#5eaef4"/>
<rect x="431" y="558" width="5" height="4" fill="#5eaef4"/>
<rect x="431" y="562" width="5" height="4" fill="#5eaef4"/>
<rect x="431" y="566" width="5" height="5" fill="#5eaef4"/>
<rect x="431" y="571" width="5" height="4" fill="#5eaef4"/>
<rect x="431" y="575" width="5" height="4" fill="#5eaef4"/>
<rect x="431" y="579" width="5" height="4" fill="#3d546e"/>
<rect x="431" y="583" width="5" height="5" fill="#3d546e"/>
<rect x="431" y="588" width="5" height="4" fill="#5eaef4"/>
<rect x="436" y="473" width="4" height="4" fill="#acc9ee"/>
<rect x="436" y="494" width="4" height="4" fill="#92bef1"/>
<rect x="436" y="507" width="4" height="4" fill="#acc9ee"/>
<rect x="436" y="511" width="4" height="4" fill="#acc9ee"/>
<rect x="436" y="515" width="4" height="5" fill="#acc9ee"/>
<rect x="436" y="520" width="4" height="4" fill="#92bef1"/>
<rect x="436" y="524" width="4" height="4" fill="#2b96e2"/>
<rect x="436" y="528" width="4" height="4" fill="#2b96e2"/>
<rect x="436" y="532" width="4" height="5" fill="#3577ae"/>
<rect x="436" y="537" width="4" height="4" fill="#5eaef4"/>
<rect x="436" y="541" width="4" height="4" fill="#2b96e2"/>
<rect x="436" y="545" width="4" height="4" fill="#5eaef4"/>
<rect x="436" y="549" width="4" height="5" fill="#3d546e"/>
<rect x="436" y="554" width="4" height="4" fill="#3577ae"/>
<rect x="436" y="558" width="4" height="4" fill="#5eaef4"/>
<rect x="436" y="562" width="4" height="4" fill="#5eaef4"/>
<rect x="436" y="566" width="4" height="5" fill="#3577ae"/>
<rect x="436" y="571" width="4" height="4" fill="#3d546e"/>
<rect x="436" y="575" width="4" height="4" fill="#3577ae"/>
<rect x="436" y="579" width="4" height="4" fill="#2b96e2"/>
<rect x="436" y="583" width="4" height="5" fill="#3d546e"/>
<rect x="436" y="588" width="4" height="4" fill="#5eaef4"/>
<rect x="440" y="469" width="5" height="4" fill="#acc9ee"/>
<rect x="440" y="473" width="5" height="4" fill="#acc9ee"/>
<rect x="440" y="477" width="5" height="4" fill="#acc9ee"/>
<rect x="440" y="481" width="5" height="5" fill="#acc9ee"/>
<rect x="440" y="486" width="5" height="4" fill="#acc9ee"/>
<rect x="440" y="490" width="5" height="4" fill="#acc9ee"/>
<rect x="440" y="503" width="5" height="4" fill="#92bef1"/>
<rect x="440" y="507" width="5" height="4" fill="#92bef1"/>
<rect x="440" y="511" width="5" height="4" fill="#acc9ee"/>
<rect x="440" y="515" width="5" height="5" fill="#acc9ee"/>
<rect x="440" y="524" width="5" height="4" fill="#5eaef4"/>
<rect x="440" y="528" width="5" height="4" fill="#5eaef4"/>
<rect x="440" y="532" width="5" height="5" fill="#5eaef4"/>
<rect x="440" y="537" width="5" height="4" fill="#5eaef4"/>
<rect x="440" y="541" width="5" height="4" fill="#5eaef4"/>
<rect x="440" y="545" width="5" height="4" fill="#5eaef4"/>
<rect x="440" y="549" width="5" height="5" fill="#3d546e"/>
<rect x="440" y="554" width="5" height="4" fill="#3577ae"/>
<rect x="440" y="558" width="5" height="4" fill="#5eaef4"/>
<rect x="440" y="562" width="5" height="4" fill="#3d546e"/>
<rect x="440" y="566" width="5" height="5" fill="#3577ae"/>
<rect x="440" y="571" width="5" height="4" fill="#3d546e"/>
<rect x="440" y="575" width="5" height="4" fill="#3d546e"/>
<rect x="440" y="579" width="5" height="4" fill="#5eaef4"/>
<rect x="440" y="583" width="5" height="5" fill="#5eaef4"/>
<rect x="440" y="588" width="5" height="4" fill="#5eaef4"/>
<rect x="445" y="418" width="5" height="4" fill="#acc9ee"/>
<rect x="445" y="452" width="5" height="4" fill="#acc9ee"/>
<rect x="445" y="456" width="5" height="4" fill="#acc9ee"/>
<rect x="445" y="460" width="5" height="4" fill="#acc9ee"/>
<rect x="445" y="469" width="5" height="4" fill="#acc9ee"/>
<rect x="445" y="473" width="5" height="4" fill="#acc9ee"/>
<rect x="445" y="477" width="5" height="4" fill="#5eaef4"/>
<rect x="445" y="481" width="5" height="5" fill="#acc9ee"/>
<rect x="445" y="490" width="5" height="4" fill="#acc9ee"/>
<rect x="445" y="494" width="5" height="4" fill="#92bef1"/>
<rect x="445" y="511" width="5" height="4" fill="#92bef1"/>
<rect x="445" y="515" width="5" height="5" fill="#92bef1"/>
<rect x="445" y="520" width="5" height="4" fill="#acc9ee"/>
<rect x="445" y="524" width="5" height="4" fill="#2b96e2"/>
<rect x="445" y="528" width="5" height="4" fill="#5eaef4"/>
<rect x="445" y="532" width="5" height="5" fill="#92bef1"/>
<rect x="445" y="537" width="5" height="4" fill="#92bef1"/>
<rect x="445" y="541" width="5" height="4" fill="#2b96e2"/>
<rect x="445" y="545" width="5" height="4" fill="#5eaef4"/>
<rect x="445" y="549" width="5" height="5" fill="#3d546e"/>
<rect x="445" y="554" width="5" height="4" fill="#5eaef4"/>
<rect x="445" y="558" width="5" height="4" fill="#3d546e"/>
<rect x="445" y="562" width="5" height="4" fill="#3d546e"/>
<rect x="445" y="566" width="5" height="5" fill="#5eaef4"/>
<rect x="445" y="571" width="5" height="4" fill="#3d546e"/>
<rect x="445" y="575" width="5" height="4" fill="#2b96e2"/>
<rect x="445" y="579" width="5" height="4" fill="#2b96e2"/>
<rect x="445" y="583" width="5" height="5" fill="#92bef1"/>
<rect x="445" y="588" width="5" height="4" fill="#92bef1"/>
<rect x="450" y="447" width="5" height="5" fill="#acc9ee"/>
<rect x="450" y="452" width="5" height="4" fill="#acc9ee"/>
<rect x="450" y="456" width="5" height="4" fill="#acc9ee"/>
<rect x="450" y="460" width="5" height="4" fill="#acc9ee"/>
<rect x="450" y="469" width="5" height="4" fill="#acc9ee"/>
<rect x="450" y="473" width="5" height="4" fill="#acc9ee"/>
<rect x="450" y="477" width="5" height="4" fill="#92bef1"/>
<rect x="450" y="481" width="5" height="5" fill="#acc9ee"/>
<rect x="450" y="507" width="5" height="4" fill="#92bef1"/>
<rect x="450" y="511" width="5" height="4" fill="#92bef1"/>
<rect x="450" y="524" width="5" height="4" fill="#acc9ee"/>
<rect x="450" y="532" width="5" height="5" fill="#5eaef4"/>
<rect x="450" y="537" width="5" height="4" fill="#2b96e2"/>
<rect x="450" y="541" width="5" height="4" fill="#2b96e2"/>
<rect x="450" y="545" width="5" height="4" fill="#3577ae"/>
<rect x="450" y="549" width="5" height="5" fill="#3577ae"/>
<rect x="450" y="554" width="5" height="4" fill="#3d546e"/>
<rect x="450" y="558" width="5" height="4" fill="#2b96e2"/>
<rect x="450" y="562" width="5" height="4" fill="#5eaef4"/>
<rect x="450" y="566" width="5" height="5" fill="#3577ae"/>
<rect x="450" y="571" width="5" height="4" fill="#3d546e"/>
<rect x="450" y="575" width="5" height="4" fill="#5eaef4"/>
<rect x="450" y="579" width="5" height="4" fill="#5eaef4"/>
<rect x="450" y="583" width="5" height="5" fill="#92bef1"/>
<rect x="455" y="469" width="4" height="4" fill="#acc9ee"/>
<rect x="455" y="473" width="4" height="4" fill="#5eaef4"/>
<rect x="455" y="477" width="4" height="4" fill="#92bef1"/>
<rect x="455" y="481" width="4" height="5" fill="#acc9ee"/>
<rect x="455" y="507" width="4" height="4" fill="#92bef1"/>
<rect x="455" y="511" width="4" height="4" fill="#92bef1"/>
<rect x="455" y="520" width="4" height="4" fill="#acc9ee"/>
<rect x="455" y="524" width="4" height="4" fill="#acc9ee"/>
<rect x="455" y="528" width="4" height="4" fill="#2b96e2"/>
<rect x="455" y="532" width="4" height="5" fill="#2b96e2"/>
<rect x="455" y="537" width="4" height="4" fill="#2b96e2"/>
<rect x="455" y="541" width="4" height="4" fill="#2b96e2"/>
<rect x="455" y="545" width="4" height="4" fill="#2b96e2"/>
<rect x="455" y="549" width="4" height="5" fill="#3577ae"/>
<rect x="455" y="554" width="4" height="4" fill="#5eaef4"/>
<rect x="455" y="558" width="4" height="4" fill="#5eaef4"/>
<rect x="455" y="562" width="4" height="4" fill="#2b96e2"/>
<rect x="455" y="566" width="4" height="5" fill="#5eaef4"/>
<rect x="455" y="571" width="4" height="4" fill="#5eaef4"/>
<rect x="455" y="579" width="4" height="4" fill="#92bef1"/>
<rect x="455" y="583" width="4" height="5" fill="#92bef1"/>
<rect x="459" y="426" width="5" height="4" fill="#acc9ee"/>
<rect x="459" y="477" width="5" height="4" fill="#92bef1"/>
<rect x="459" y="481" width="5" height="5" fill="#acc9ee"/>
<rect x="459" y="503" width="5" height="4" fill="#92bef1"/>
<rect x="459" y="507" width="5" height="4" fill="#92bef1"/>
<rect x="459" y="511" width="5" height="4" fill="#92bef1"/>
<rect x="459" y="515" width="5" height="5" fill="#5eaef4"/>
<rect x="459" y="520" width="5" height="4" fill="#5eaef4"/>
<rect x="459" y="524" width="5" height="4" fill="#92bef1"/>
<rect x="459" y="528" width="5" height="4" fill="#5eaef4"/>
<rect x="459" y="532" width="5" height="5" fill="#3d546e"/>
<rect x="459" y="537" width="5" height="4" fill="#5eaef4"/>
<rect x="459" y="541" width="5" height="4" fill="#92bef1"/>
<rect x="459" y="545" width="5" height="4" fill="#3577ae"/>
<rect x="459" y="549" width="5" height="5" fill="#3577ae"/>
<rect x="459" y="554" width="5" height="4" fill="#3577ae"/>
<rect x="459" y="558" width="5" height="4" fill="#5eaef4"/>
<rect x="459" y="562" width="5" height="4" fill="#92bef1"/>
<rect x="459" y="566" width="5" height="5" fill="#92bef1"/>
<rect x="459" y="571" width="5" height="4" fill="#92bef1"/>
<rect x="459" y="575" width="5" height="4" fill="#acc9ee"/>
<rect x="459" y="579" width="5" height="4" fill="#92bef1"/>
<rect x="459" y="583" width="5" height="5" fill="#92bef1"/>
<rect x="459" y="588" width="5" height="4" fill="#92bef1"/>
<rect x="464" y="426" width="5" height="4" fill="#acc9ee"/>
<rect x="464" y="469" width="5" height="4" fill="#acc9ee"/>
<rect x="464" y="490" width="5" height="4" fill="#acc9ee"/>
<rect x="464" y="494" width="5" height="4" fill="#acc9ee"/>
<rect x="464" y="498" width="5" height="5" fill="#92bef1"/>
<rect x="464" y="503" width="5" height="4" fill="#acc9ee"/>
<rect x="464" y="507" width="5" height="4" fill="#92bef1"/>
<rect x="464" y="511" width="5" height="4" fill="#92bef1"/>
<rect x="464" y="515" width="5" height="5" fill="#5eaef4"/>
<rect x="464" y="520" width="5" height="4" fill="#5eaef4"/>
<rect x="464" y="524" width="5" height="4" fill="#acc9ee"/>
<rect x="464" y="528" width="5" height="4" fill="#5eaef4"/>
<rect x="464" y="532" width="5" height="5" fill="#5eaef4"/>
<rect x="464" y="537" width="5" height="4" fill="#5eaef4"/>
<rect x="464" y="541" width="5" height="4" fill="#92bef1"/>
<rect x="464" y="545" width="5" height="4" fill="#2b96e2"/>
<rect x="464" y="549" width="5" height="5" fill="#2b96e2"/>
<rect x="464" y="554" width="5" height="4" fill="#5eaef4"/>
<rect x="464" y="558" width="5" height="4" fill="#92bef1"/>
<rect x="464" y="562" width="5" height="4" fill="#5eaef4"/>
<rect x="464" y="566" width="5" height="5" fill="#92bef1"/>
<rect x="464" y="571" width="5" height="4" fill="#92bef1"/>
<rect x="464" y="575" width="5" height="4" fill="#92bef1"/>
<rect x="464" y="579" width="5" height="4" fill="#5eaef4"/>
<rect x="464" y="583" width="5" height="5" fill="#92bef1"/>
<rect x="464" y="588" width="5" height="4" fill="#acc9ee"/>
<rect x="469" y="469" width="4" height="4" fill="#acc9ee"/>
<rect x="469" y="473" width="4" height="4" fill="#acc9ee"/>
<rect x="469" y="477" width="4" height="4" fill="#acc9ee"/>
<rect x="469" y="481" width="4" height="5" fill="#acc9ee"/>
<rect x="469" y="486" width="4" height="4" fill="#acc9ee"/>
<rect x="469" y="490" width="4" height="4" fill="#acc9ee"/>
<rect x="469" y="494" width="4" height="4" fill="#acc9ee"/>
<rect x="469" y="498" width="4" height="5" fill="#92bef1"/>
<rect x="469" y="503" width="4" height="4" fill="#acc9ee"/>
<rect x="469" y="507" width="4" height="4" fill="#acc9ee"/>
<rect x="469" y="511" width="4" height="4" fill="#5eaef4"/>
<rect x="469" y="515" width="4" height="5" fill="#5eaef4"/>
<rect x="469" y="520" width="4" height="4" fill="#2b96e2"/>
<rect x="469" y="524" width="4" height="4" fill="#acc9ee"/>
<rect x="469" y="528" width="4" height="4" fill="#5eaef4"/>
<rect x="469" y="532" width="4" height="5" fill="#92bef1"/>
<rect x="469" y="537" width="4" height="4" fill="#92bef1"/>
<rect x="469" y="541" width="4" height="4" fill="#92bef1"/>
<rect x="469" y="545" width="4" height="4" fill="#92bef1"/>
<rect x="469" y="549" width="4" height="5" fill="#2b96e2"/>
<rect x="469" y="554" width="4" height="4" fill="#5eaef4"/>
<rect x="469" y="558" width="4" height="4" fill="#5eaef4"/>
<rect x="469" y="562" width="4" height="4" fill="#92bef1"/>
<rect x="469" y="566" width="4" height="5" fill="#92bef1"/>
<rect x="469" y="575" width="4" height="4" fill="#92bef1"/>
<rect x="469" y="579" width="4" height="4" fill="#92bef1"/>
<rect x="469" y="583" width="4" height="5" fill="#92bef1"/>
<rect x="473" y="443" width="5" height="4" fill="#acc9ee"/>
<rect x="473" y="456" width="5" height="4" fill="#acc9ee"/>
<rect x="473" y="473" width="5" height="4" fill="#acc9ee"/>
<rect x="473" y="477" width="5" height="4" fill="#92bef1"/>
<rect x="473" y="486" width="5" height="4" fill="#acc9ee"/>
<rect x="473" y="498" width="5" height="5" fill="#acc9ee"/>
<rect x="473" y="503" width="5" height="4" fill="#acc9ee"/>
<rect x="473" y="507" width="5" height="4" fill="#acc9ee"/>
<rect x="473" y="511" width="5" height="4" fill="#acc9ee"/>
<rect x="473" y="515" width="5" height="5" fill="#92bef1"/>
<rect x="473" y="520" width="5" height="4" fill="#92bef1"/>
<rect x="473" y="524" width="5" height="4" fill="#acc9ee"/>
<rect x="473" y="528" width="5" height="4" fill="#92bef1"/>
<rect x="473" y="532" width="5" height="5" fill="#92bef1"/>
<rect x="473" y="537" width="5" height="4" fill="#92bef1"/>
<rect x="473" y="541" width="5" height="4" fill="#92bef1"/>
<rect x="473" y="545" width="5" height="4" fill="#3577ae"/>
<rect x="473" y="549" width="5" height="5" fill="#92bef1"/>
<rect x="473" y="554" width="5" height="4" fill="#3577ae"/>
<rect x="473" y="558" width="5" height="4" fill="#92bef1"/>
<rect x="473" y="562" width="5" height="4" fill="#92bef1"/>
<rect x="473" y="566" width="5" height="5" fill="#92bef1"/>
<rect x="473" y="571" width="5" height="4" fill="#acc9ee"/>
<rect x="473" y="575" width="5" height="4" fill="#5eaef4"/>
<rect x="473" y="579" width="5" height="4" fill="#92bef1"/>
<rect x="473" y="583" width="5" height="5" fill="#92bef1"/>
<rect x="478" y="460" width="5" height="4" fill="#acc9ee"/>
<rect x="478" y="464" width="5" height="5" fill="#acc9ee"/>
<rect x="478" y="473" width="5" height="4" fill="#acc9ee"/>
<rect x="478" y="477" width="5" height="4" fill="#92bef1"/>
<rect x="478" y="486" width="5" height="4" fill="#acc9ee"/>
<rect x="478" y="490" width="5" height="4" fill="#acc9ee"/>
<rect x="478" y="494" width="5" height="4" fill="#acc9ee"/>
<rect x="478" y="503" width="5" height="4" fill="#92bef1"/>
<rect x="478" y="507" width="5" height="4" fill="#acc9ee"/>
<rect x="478" y="511" width="5" height="4" fill="#acc9ee"/>
<rect x="478" y="520" width="5" height="4" fill="#92bef1"/>
<rect x="478" y="524" width="5" height="4" fill="#acc9ee"/>
<rect x="478" y="528" width="5" height="4" fill="#92bef1"/>
<rect x="478" y="532" width="5" height="5" fill="#acc9ee"/>
<rect x="478" y="537" width="5" height="4" fill="#92bef1"/>
<rect x="478" y="541" width="5" height="4" fill="#2b96e2"/>
<rect x="478" y="545" width="5" height="4" fill="#92bef1"/>
<rect x="478" y="549" width="5" height="5" fill="#acc9ee"/>
<rect x="478" y="554" width="5" height="4" fill="#92bef1"/>
<rect x="478" y="558" width="5" height="4" fill="#92bef1"/>
<rect x="478" y="562" width="5" height="4" fill="#acc9ee"/>
<rect x="478" y="566" width="5" height="5" fill="#92bef1"/>
<rect x="478" y="571" width="5" height="4" fill="#92bef1"/>
<rect x="478" y="575" width="5" height="4" fill="#acc9ee"/>
<rect x="478" y="579" width="5" height="4" fill="#5eaef4"/>
<rect x="478" y="583" width="5" height="5" fill="#acc9ee"/>
<rect x="483" y="477" width="5" height="4" fill="#acc9ee"/>
<rect x="483" y="498" width="5" height="5" fill="#acc9ee"/>
<rect x="483" y="503" width="5" height="4" fill="#acc9ee"/>
<rect x="483" y="507" width="5" height="4" fill="#92bef1"/>
<rect x="483" y="511" width="5" height="4" fill="#92bef1"/>
<rect x="483" y="515" width="5" height="5" fill="#92bef1"/>
<rect x="483" y="520" width="5" height="4" fill="#92bef1"/>
<rect x="483" y="524" width="5" height="4" fill="#acc9ee"/>
<rect x="483" y="528" width="5" height="4" fill="#92bef1"/>
<rect x="483" y="532" width="5" height="5" fill="#5eaef4"/>
<rect x="483" y="537" width="5" height="4" fill="#3d546e"/>
<rect x="483" y="541" width="5" height="4" fill="#2b96e2"/>
<rect x="483" y="545" width="5" height="4" fill="#92bef1"/>
<rect x="483" y="549" width="5" height="5" fill="#2b96e2"/>
<rect x="483" y="554" width="5" height="4" fill="#5eaef4"/>
<rect x="483" y="558" width="5" height="4" fill="#92bef1"/>
<rect x="483" y="562" width="5" height="4" fill="#acc9ee"/>
<rect x="483" y="566" width="5" height="5" fill="#acc9ee"/>
<rect x="483" y="571" width="5" height="4" fill="#92bef1"/>
<rect x="483" y="575" width="5" height="4" fill="#92bef1"/>
<rect x="488" y="388" width="4" height="4" fill="#2b96e2"/>
<rect x="488" y="469" width="4" height="4" fill="#acc9ee"/>
<rect x="488" y="473" width="4" height="4" fill="#acc9ee"/>
<rect x="488" y="481" width="4" height="5" fill="#acc9ee"/>
<rect x="488" y="503" width="4" height="4" fill="#acc9ee"/>
<rect x="488" y="507" width="4" height="4" fill="#acc9ee"/>
<rect x="488" y="511" width="4" height="4" fill="#acc9ee"/>
<rect x="488" y="515" width="4" height="5" fill="#acc9ee"/>
<rect x="488" y="520" width="4" height="4" fill="#acc9ee"/>
<rect x="488" y="524" width="4" height="4" fill="#acc9ee"/>
<rect x="488" y="528" width="4" height="4" fill="#92bef1"/>
<rect x="488" y="532" width="4" height="5" fill="#acc9ee"/>
<rect x="488" y="537" width="4" height="4" fill="#92bef1"/>
<rect x="488" y="541" width="4" height="4" fill="#2b96e2"/>
<rect x="488" y="549" width="4" height="5" fill="#3d546e"/>
<rect x="488" y="558" width="4" height="4" fill="#acc9ee"/>
<rect x="488" y="566" width="4" height="5" fill="#acc9ee"/>
<rect x="492" y="477" width="5" height="4" fill="#acc9ee"/>
<rect x="492" y="490" width="5" height="4" fill="#acc9ee"/>
<rect x="492" y="498" width="5" height="5" fill="#acc9ee"/>
<rect x="492" y="503" width="5" height="4" fill="#acc9ee"/>
<rect x="492" y="511" width="5" height="4" fill="#acc9ee"/>
<rect x="492" y="520" width="5" height="4" fill="#92bef1"/>
<rect x="492" y="528" width="5" height="4" fill="#92bef1"/>
<rect x="492" y="532" width="5" height="5" fill="#92bef1"/>
<rect x="492" y="537" width="5" height="4" fill="#92bef1"/>
<rect x="492" y="541" width="5" height="4" fill="#5eaef4"/>
<rect x="492" y="545" width="5" height="4" fill="#92bef1"/>
<rect x="492" y="558" width="5" height="4" fill="#acc9ee"/>
<rect x="492" y="562" width="5" height="4" fill="#92bef1"/>
<rect x="492" y="566" width="5" height="5" fill="#92bef1"/>
<rect x="492" y="575" width="5" height="4" fill="#acc9ee"/>
<rect x="497" y="473" width="5" height="4" fill="#acc9ee"/>
<rect x="497" y="498" width="5" height="5" fill="#acc9ee"/>
<rect x="497" y="507" width="5" height="4" fill="#acc9ee"/>
<rect x="497" y="511" width="5" height="4" fill="#acc9ee"/>
<rect x="497" y="515" width="5" height="5" fill="#acc9ee"/>
<rect x="497" y="520" width="5" height="4" fill="#acc9ee"/>
<rect x="497" y="524" width="5" height="4" fill="#acc9ee"/>
<rect x="497" y="528" width="5" height="4" fill="#acc9ee"/>
<rect x="497" y="532" width="5" height="5" fill="#92bef1"/>
<rect x="497" y="537" width="5" height="4" fill="#92bef1"/>
<rect x="497" y="562" width="5" height="4" fill="#acc9ee"/>
<rect x="497" y="566" width="5" height="5" fill="#5eaef4"/>
<rect x="497" y="571" width="5" height="4" fill="#92bef1"/>
<rect x="497" y="575" width="5" height="4" fill="#acc9ee"/>
<rect x="497" y="579" width="5" height="4" fill="#acc9ee"/>
<rect x="502" y="469" width="5" height="4" fill="#acc9ee"/>
<rect x="502" y="494" width="5" height="4" fill="#acc9ee"/>
<rect x="502" y="511" width="5" height="4" fill="#acc9ee"/>
<rect x="502" y="515" width="5" height="5" fill="#acc9ee"/>
<rect x="502" y="520" width="5" height="4" fill="#acc9ee"/>
<rect x="502" y="524" width="5" height="4" fill="#acc9ee"/>
<rect x="502" y="528" width="5" height="4" fill="#acc9ee"/>
<rect x="502" y="532" width="5" height="5" fill="#5eaef4"/>
<rect x="502" y="537" width="5" height="4" fill="#acc9ee"/>
<rect x="502" y="545" width="5" height="4" fill="#5eaef4"/>
<rect x="502" y="549" width="5" height="5" fill="#acc9ee"/>
<rect x="502" y="558" width="5" height="4" fill="#acc9ee"/>
<rect x="502" y="562" width="5" height="4" fill="#acc9ee"/>
<rect x="502" y="566" width="5" height="5" fill="#acc9ee"/>
<rect x="502" y="571" width="5" height="4" fill="#92bef1"/>
<rect x="502" y="575" width="5" height="4" fill="#acc9ee"/>
<rect x="507" y="503" width="4" height="4" fill="#acc9ee"/>
<rect x="507" y="507" width="4" height="4" fill="#acc9ee"/>
<rect x="507" y="511" width="4" height="4" fill="#acc9ee"/>
<rect x="507" y="515" width="4" height="5" fill="#acc9ee"/>
<rect x="507" y="520" width="4" height="4" fill="#acc9ee"/>
<rect x="507" y="528" width="4" height="4" fill="#acc9ee"/>
<rect x="507" y="532" width="4" height="5" fill="#92bef1"/>
<rect x="507" y="537" width="4" height="4" fill="#acc9ee"/>
<rect x="507" y="541" width="4" height="4" fill="#5eaef4"/>
<rect x="507" y="554" width="4" height="4" fill="#acc9ee"/>
<rect x="507" y="558" width="4" height="4" fill="#acc9ee"/>
<rect x="507" y="562" width="4" height="4" fill="#acc9ee"/>
<rect x="507" y="566" width="4" height="5" fill="#acc9ee"/>
<rect x="507" y="571" width="4" height="4" fill="#acc9ee"/>
<rect x="511" y="486" width="5" height="4" fill="#acc9ee"/>
<rect x="511" y="494" width="5" height="4" fill="#acc9ee"/>
<rect x="511" y="507" width="5" height="4" fill="#acc9ee"/>
<rect x="511" y="511" width="5" height="4" fill="#acc9ee"/>
<rect x="511" y="515" width="5" height="5" fill="#acc9ee"/>
<rect x="511" y="549" width="5" height="5" fill="#acc9ee"/>
<rect x="511" y="554" width="5" height="4" fill="#acc9ee"/>
<rect x="511" y="558" width="5" height="4" fill="#acc9ee"/>
<rect x="511" y="562" width="5" height="4" fill="#2b96e2"/>
<rect x="511" y="566" width="5" height="5" fill="#3577ae"/>
<rect x="511" y="571" width="5" height="4" fill="#acc9ee"/>
<rect x="511" y="575" width="5" height="4" fill="#acc9ee"/>
<rect x="516" y="494" width="5" height="4" fill="#acc9ee"/>
<rect x="516" y="498" width="5" height="5" fill="#acc9ee"/>
<rect x="516" y="511" width="5" height="4" fill="#acc9ee"/>
<rect x="516" y="541" width="5" height="4" fill="#acc9ee"/>
<rect x="516" y="545" width="5" height="4" fill="#acc9ee"/>
<rect x="516" y="549" width="5" height="5" fill="#acc9ee"/>
<rect x="516" y="558" width="5" height="4" fill="#5eaef4"/>
<rect x="516" y="562" width="5" height="4" fill="#acc9ee"/>
<rect x="516" y="566" width="5" height="5" fill="#acc9ee"/>
<rect x="516" y="571" width="5" height="4" fill="#acc9ee"/>
<rect x="516" y="575" width="5" height="4" fill="#acc9ee"/>
<rect x="521" y="426" width="4" height="4" fill="#2b96e2"/>
<rect x="521" y="460" width="4" height="4" fill="#acc9ee"/>
<rect x="521" y="490" width="4" height="4" fill="#acc9ee"/>
<rect x="521" y="494" width="4" height="4" fill="#acc9ee"/>
<rect x="521" y="503" width="4" height="4" fill="#acc9ee"/>
<rect x="521" y="507" width="4" height="4" fill="#acc9ee"/>
<rect x="521" y="511" width="4" height="4" fill="#acc9ee"/>
<rect x="521" y="515" width="4" height="5" fill="#acc9ee"/>
<rect x="521" y="532" width="4" height="5" fill="#acc9ee"/>
<rect x="521" y="541" width="4" height="4" fill="#acc9ee"/>
<rect x="521" y="545" width="4" height="4" fill="#acc9ee"/>
<rect x="521" y="549" width="4" height="5" fill="#acc9ee"/>
<rect x="521" y="554" width="4" height="4" fill="#acc9ee"/>
<rect x="521" y="558" width="4" height="4" fill="#acc9ee"/>
<rect x="521" y="562" width="4" height="4" fill="#acc9ee"/>
<rect x="521" y="566" width="4" height="5" fill="#acc9ee"/>
<rect x="521" y="571" width="4" height="4" fill="#acc9ee"/>
<rect x="525" y="439" width="5" height="4" fill="#2b96e2"/>
<rect x="525" y="447" width="5" height="5" fill="#2b96e2"/>
<rect x="525" y="464" width="5" height="5" fill="#acc9ee"/>
<rect x="525" y="473" width="5" height="4" fill="#acc9ee"/>
<rect x="525" y="498" width="5" height="5" fill="#acc9ee"/>
<rect x="525" y="537" width="5" height="4" fill="#acc9ee"/>
<rect x="525" y="541" width="5" height="4" fill="#acc9ee"/>
<rect x="525" y="549" width="5" height="5" fill="#acc9ee"/>
<rect x="525" y="554" width="5" height="4" fill="#acc9ee"/>
<rect x="525" y="558" width="5" height="4" fill="#acc9ee"/>
<rect x="525" y="562" width="5" height="4" fill="#acc9ee"/>
<rect x="525" y="566" width="5" height="5" fill="#acc9ee"/>
<rect x="530" y="456" width="5" height="4" fill="#acc9ee"/>
<rect x="530" y="464" width="5" height="5" fill="#2b96e2"/>
<rect x="530" y="498" width="5" height="5" fill="#acc9ee"/>
<rect x="530" y="503" width="5" height="4" fill="#acc9ee"/>
<rect x="530" y="507" width="5" height="4" fill="#acc9ee"/>
<rect x="530" y="541" width="5" height="4" fill="#acc9ee"/>
<rect x="530" y="558" width="5" height="4" fill="#acc9ee"/>
<rect x="530" y="562" width="5" height="4" fill="#acc9ee"/>
<rect x="535" y="515" width="5" height="5" fill="#acc9ee"/>
<rect x="535" y="537" width="5" height="4" fill="#acc9ee"/>
<rect x="535" y="549" width="5" height="5" fill="#acc9ee"/>
<rect x="535" y="554" width="5" height="4" fill="#acc9ee"/>
<rect x="535" y="558" width="5" height="4" fill="#acc9ee"/>
<rect x="535" y="566" width="5" height="5" fill="#acc9ee"/>
<rect x="540" y="507" width="4" height="4" fill="#acc9ee"/>
<rect x="540" y="537" width="4" height="4" fill="#acc9ee"/>
<rect x="540" y="541" width="4" height="4" fill="#acc9ee"/>
<rect x="540" y="554" width="4" height="4" fill="#acc9ee"/>
<rect x="540" y="558" width="4" height="4" fill="#acc9ee"/>
<rect x="544" y="435" width="5" height="4" fill="#2b96e2"/>
<rect x="544" y="498" width="5" height="5" fill="#2b96e2"/>
<rect x="544" y="537" width="5" height="4" fill="#acc9ee"/>
<rect x="544" y="554" width="5" height="4" fill="#2b96e2"/>
<rect x="544" y="558" width="5" height="4" fill="#acc9ee"/>
<rect x="549" y="494" width="5" height="4" fill="#2b96e2"/>
<rect x="549" y="549" width="5" height="5" fill="#acc9ee"/>
<rect x="554" y="532" width="4" height="5" fill="#acc9ee"/>
<rect x="554" y="562" width="4" height="4" fill="#acc9ee"/>
<rect x="558" y="554" width="5" height="4" fill="#acc9ee"/>
<rect x="563" y="430" width="5" height="5" fill="#2b96e2"/>
<rect x="563" y="473" width="5" height="4" fill="#2b96e2"/>
<rect x="563" y="545" width="5" height="4" fill="#acc9ee"/>
<rect x="568" y="379" width="5" height="5" fill="#2b96e2"/>
<rect x="568" y="481" width="5" height="5" fill="#acc9ee"/>
<rect x="568" y="524" width="5" height="4" fill="#acc9ee"/>
<rect x="568" y="541" width="5" height="4" fill="#acc9ee"/>
<rect x="568" y="554" width="5" height="4" fill="#acc9ee"/>
<rect x="573" y="452" width="4" height="4" fill="#2b96e2"/>
<rect x="577" y="422" width="5" height="4" fill="#2b96e2"/>
<rect x="577" y="439" width="5" height="4" fill="#2b96e2"/>
<rect x="577" y="541" width="5" height="4" fill="#acc9ee"/>
<rect x="582" y="503" width="5" height="4" fill="#acc9ee"/>
<rect x="582" y="537" width="5" height="4" fill="#acc9ee"/>
<rect x="587" y="418" width="4" height="4" fill="#2b96e2"/>
<rect x="587" y="524" width="4" height="4" fill="#acc9ee"/>
<rect x="587" y="545" width="4" height="4" fill="#acc9ee"/>
<rect x="587" y="554" width="4" height="4" fill="#acc9ee"/>
<rect x="587" y="558" width="4" height="4" fill="#acc9ee"/>
<rect x="591" y="422" width="5" height="4" fill="#2b96e2"/>
<rect x="591" y="524" width="5" height="4" fill="#acc9ee"/>
<rect x="596" y="545" width="5" height="4" fill="#acc9ee"/>
<rect x="601" y="452" width="5" height="4" fill="#2b96e2"/>
<rect x="601" y="515" width="5" height="5" fill="#acc9ee"/>
<rect x="601" y="520" width="5" height="4" fill="#2b96e2"/>
<rect x="606" y="379" width="4" height="5" fill="#2b96e2"/>
<rect x="606" y="439" width="4" height="4" fill="#2b96e2"/>
<rect x="606" y="443" width="4" height="4" fill="#2b96e2"/>
<rect x="606" y="447" width="4" height="5" fill="#2b96e2"/>
<rect x="606" y="477" width="4" height="4" fill="#2b96e2"/>
<rect x="610" y="405" width="5" height="4" fill="#2b96e2"/>
<rect x="610" y="413" width="5" height="5" fill="#2b96e2"/>
<rect x="610" y="435" width="5" height="4" fill="#2b96e2"/>
<rect x="615" y="456" width="5" height="4" fill="#2b96e2"/>
<rect x="615" y="494" width="5" height="4" fill="#2b96e2"/>
<rect x="620" y="413" width="5" height="5" fill="#2b96e2"/>
<rect x="620" y="452" width="5" height="4" fill="#2b96e2"/>
<rect x="620" y="456" width="5" height="4" fill="#2b96e2"/>
<rect x="625" y="392" width="4" height="4" fill="#2b96e2"/>
<rect x="625" y="439" width="4" height="4" fill="#2b96e2"/>
<rect x="625" y="464" width="4" height="5" fill="#2b96e2"/>
<rect x="629" y="426" width="5" height="4" fill="#2b96e2"/>
<rect x="629" y="435" width="5" height="4" fill="#2b96e2"/>
<rect x="629" y="494" width="5" height="4" fill="#2b96e2"/>
<rect x="634" y="409" width="5" height="4" fill="#2b96e2"/>
<rect x="634" y="422" width="5" height="4" fill="#2b96e2"/>
<rect x="634" y="439" width="5" height="4" fill="#2b96e2"/>
<rect x="639" y="388" width="4" height="4" fill="#2b96e2"/>
<rect x="639" y="401" width="4" height="4" fill="#2b96e2"/>
<rect x="639" y="439" width="4" height="4" fill="#2b96e2"/>
<rect x="643" y="409" width="5" height="4" fill="#2b96e2"/>
<rect x="643" y="418" width="5" height="4" fill="#2b96e2"/>
<rect x="648" y="388" width="5" height="4" fill="#2b96e2"/>
<rect x="648" y="430" width="5" height="5" fill="#2b96e2"/>
<rect x="653" y="426" width="5" height="4" fill="#2b96e2"/>
<rect x="653" y="435" width="5" height="4" fill="#2b96e2"/>
<rect x="653" y="456" width="5" height="4" fill="#2b96e2"/>
<rect x="653" y="460" width="5" height="4" fill="#2b96e2"/>
<rect x="658" y="384" width="4" height="4" fill="#3577ae"/>
<rect x="658" y="396" width="4" height="5" fill="#2b96e2"/>
<rect x="662" y="379" width="5" height="5" fill="#2b96e2"/>
<rect x="662" y="405" width="5" height="4" fill="#3577ae"/>
<rect x="662" y="409" width="5" height="4" fill="#3577ae"/>
</g>
<text x="44.10" y="558.16" font-size="14.3" font-family="'Liberation Sans', sans-serif" fill="#262626" text-anchor="end" textLength="19.10" lengthAdjust="spacingAndGlyphs" stroke="#262626" stroke-width="0.22">0.2</text>
<line x1="48.40" y1="553.06" x2="53.00" y2="553.06" stroke="#262626" stroke-width="1.1"/>
<line x1="97.46" y1="597.40" x2="97.46" y2="601.60" stroke="#262626" stroke-width="1.1"/>
<text x="97.46" y="617.20" font-size="14.3" font-family="'Liberation Sans', sans-serif" fill="#262626" text-anchor="middle" textLength="18.60" lengthAdjust="spacingAndGlyphs" stroke="#262626" stroke-width="0.22">0.2</text>
<text x="44.10" y="504.92" font-size="14.3" font-family="'Liberation Sans', sans-serif" fill="#262626" text-anchor="end" textLength="19.10" lengthAdjust="spacingAndGlyphs" stroke="#262626" stroke-width="0.22">0.4</text>
<line x1="48.40" y1="499.82" x2="53.00" y2="499.82" stroke="#262626" stroke-width="1.1"/>
<line x1="157.02" y1="597.40" x2="157.02" y2="601.60" stroke="#262626" stroke-width="1.1"/>
<text x="157.02" y="617.20" font-size="14.3" font-family="'Liberation Sans', sans-serif" fill="#262626" text-anchor="middle" textLength="18.60" lengthAdjust="spacingAndGlyphs" stroke="#262626" stroke-width="0.22">0.4</text>
<text x="44.10" y="451.68" font-size="14.3" font-family="'Liberation Sans', sans-serif" fill="#262626" text-anchor="end" textLength="19.10" lengthAdjust="spacingAndGlyphs" stroke="#262626" stroke-width="0.22">0.6</text>
<line x1="48.40" y1="446.58" x2="53.00" y2="446.58" stroke="#262626" stroke-width="1.1"/>
<line x1="216.58" y1="597.40" x2="216.58" y2="601.60" stroke="#262626" stroke-width="1.1"/>
<text x="216.58" y="617.20" font-size="14.3" font-family="'Liberation Sans', sans-serif" fill="#262626" text-anchor="middle" textLength="18.60" lengthAdjust="spacingAndGlyphs" stroke="#262626" stroke-width="0.22">0.6</text>
<text x="44.10" y="398.44" font-size="14.3" font-family="'Liberation Sans', sans-serif" fill="#262626" text-anchor="end" textLength="19.10" lengthAdjust="spacingAndGlyphs" stroke="#262626" stroke-width="0.22">0.8</text>
<line x1="48.40" y1="393.34" x2="53.00" y2="393.34" stroke="#262626" stroke-width="1.1"/>
<line x1="276.14" y1="597.40" x2="276.14" y2="601.60" stroke="#262626" stroke-width="1.1"/>
<text x="276.14" y="617.20" font-size="14.3" font-family="'Liberation Sans', sans-serif" fill="#262626" text-anchor="middle" textLength="18.60" lengthAdjust="spacingAndGlyphs" stroke="#262626" stroke-width="0.22">0.8</text>
<text x="187.00" y="635.50" font-size="13.6" font-family="'Liberation Sans', sans-serif" fill="#262626" text-anchor="middle" stroke="#262626" stroke-width="0.22">x</text>
<text x="17.20" y="471.50" font-size="13.6" font-family="'Liberation Sans', sans-serif" fill="#262626" text-anchor="middle" transform="rotate(-90 17.20 471.50)" stroke="#262626" stroke-width="0.22">y</text>
<text x="410.30" y="601.70" font-size="12.9" font-family="'Liberation Sans', sans-serif" fill="#262626" text-anchor="end" textLength="18.90" lengthAdjust="spacingAndGlyphs" stroke="#262626" stroke-width="0.22">0.0</text>
<line x1="414.80" y1="596.70" x2="418.90" y2="596.70" stroke="#262626" stroke-width="1.1"/>
<line x1="426.40" y1="602.00" x2="426.40" y2="606.00" stroke="#262626" stroke-width="1.1"/>
<text x="426.40" y="619.80" font-size="12.9" font-family="'Liberation Sans', sans-serif" fill="#262626" text-anchor="middle" textLength="18.90" lengthAdjust="spacingAndGlyphs" stroke="#262626" stroke-width="0.22">0.0</text>
<text x="410.30" y="558.10" font-size="12.9" font-family="'Liberation Sans', sans-serif" fill="#262626" text-anchor="end" textLength="18.90" lengthAdjust="spacingAndGlyphs" stroke="#262626" stroke-width="0.22">0.2</text>
<line x1="414.80" y1="553.10" x2="418.90" y2="553.10" stroke="#262626" stroke-width="1.1"/>
<line x1="474.90" y1="602.00" x2="474.90" y2="606.00" stroke="#262626" stroke-width="1.1"/>
<text x="474.90" y="619.80" font-size="12.9" font-family="'Liberation Sans', sans-serif" fill="#262626" text-anchor="middle" textLength="18.90" lengthAdjust="spacingAndGlyphs" stroke="#262626" stroke-width="0.22">0.2</text>
<text x="410.30" y="514.50" font-size="12.9" font-family="'Liberation Sans', sans-serif" fill="#262626" text-anchor="end" textLength="18.90" lengthAdjust="spacingAndGlyphs" stroke="#262626" stroke-width="0.22">0.4</text>
<line x1="414.80" y1="509.50" x2="418.90" y2="509.50" stroke="#262626" stroke-width="1.1"/>
<line x1="523.40" y1="602.00" x2="523.40" y2="606.00" stroke="#262626" stroke-width="1.1"/>
<text x="523.40" y="619.80" font-size="12.9" font-family="'Liberation Sans', sans-serif" fill="#262626" text-anchor="middle" textLength="18.90" lengthAdjust="spacingAndGlyphs" stroke="#262626" stroke-width="0.22">0.4</text>
<text x="410.30" y="470.90" font-size="12.9" font-family="'Liberation Sans', sans-serif" fill="#262626" text-anchor="end" textLength="18.90" lengthAdjust="spacingAndGlyphs" stroke="#262626" stroke-width="0.22">0.6</text>
<line x1="414.80" y1="465.90" x2="418.90" y2="465.90" stroke="#262626" stroke-width="1.1"/>
<line x1="571.90" y1="602.00" x2="571.90" y2="606.00" stroke="#262626" stroke-width="1.1"/>
<text x="571.90" y="619.80" font-size="12.9" font-family="'Liberation Sans', sans-serif" fill="#262626" text-anchor="middle" textLength="18.90" lengthAdjust="spacingAndGlyphs" stroke="#262626" stroke-width="0.22">0.6</text>
<text x="410.30" y="427.30" font-size="12.9" font-family="'Liberation Sans', sans-serif" fill="#262626" text-anchor="end" textLength="18.90" lengthAdjust="spacingAndGlyphs" stroke="#262626" stroke-width="0.22">0.8</text>
<line x1="414.80" y1="422.30" x2="418.90" y2="422.30" stroke="#262626" stroke-width="1.1"/>
<line x1="620.40" y1="602.00" x2="620.40" y2="606.00" stroke="#262626" stroke-width="1.1"/>
<text x="620.40" y="619.80" font-size="12.9" font-family="'Liberation Sans', sans-serif" fill="#262626" text-anchor="middle" textLength="18.90" lengthAdjust="spacingAndGlyphs" stroke="#262626" stroke-width="0.22">0.8</text>
<text x="410.30" y="383.70" font-size="12.9" font-family="'Liberation Sans', sans-serif" fill="#262626" text-anchor="end" textLength="18.90" lengthAdjust="spacingAndGlyphs" stroke="#262626" stroke-width="0.22">1.0</text>
<line x1="414.80" y1="378.70" x2="418.90" y2="378.70" stroke="#262626" stroke-width="1.1"/>
<line x1="668.90" y1="602.00" x2="668.90" y2="606.00" stroke="#262626" stroke-width="1.1"/>
<text x="668.90" y="619.80" font-size="12.9" font-family="'Liberation Sans', sans-serif" fill="#262626" text-anchor="middle" textLength="18.90" lengthAdjust="spacingAndGlyphs" stroke="#262626" stroke-width="0.22">1.0</text>
<text x="548.85" y="637.00" font-size="14.0" font-family="'Liberation Sans', sans-serif" fill="#262626" text-anchor="middle" textLength="32.70" lengthAdjust="spacingAndGlyphs" stroke="#262626" stroke-width="0.22">width</text>
<text x="384.00" y="486.25" font-size="12.8" font-family="'Liberation Sans', sans-serif" fill="#262626" text-anchor="middle" textLength="40.10" lengthAdjust="spacingAndGlyphs" transform="rotate(-90 384.00 486.25)" stroke="#262626" stroke-width="0.22">height</text>
<text x="24.30" y="329.00" font-size="19" font-family="'Liberation Serif', serif" fill="#000" textLength="267.00" lengthAdjust="spacingAndGlyphs">A.The amount of data per category</text>
<text x="409.70" y="329.00" font-size="19" font-family="'Liberation Serif', serif" fill="#000" textLength="216.60" lengthAdjust="spacingAndGlyphs">B.Size and object of the box</text>
<text x="14.00" y="677.20" font-size="19" font-family="'Liberation Serif', serif" fill="#000" textLength="288.00" lengthAdjust="spacingAndGlyphs">C.Center point coordinates of the box</text>
<text x="428.30" y="677.20" font-size="19" font-family="'Liberation Serif', serif" fill="#000" textLength="234.60" lengthAdjust="spacingAndGlyphs">D.Length and width of the box</text>
</svg></body></html>
